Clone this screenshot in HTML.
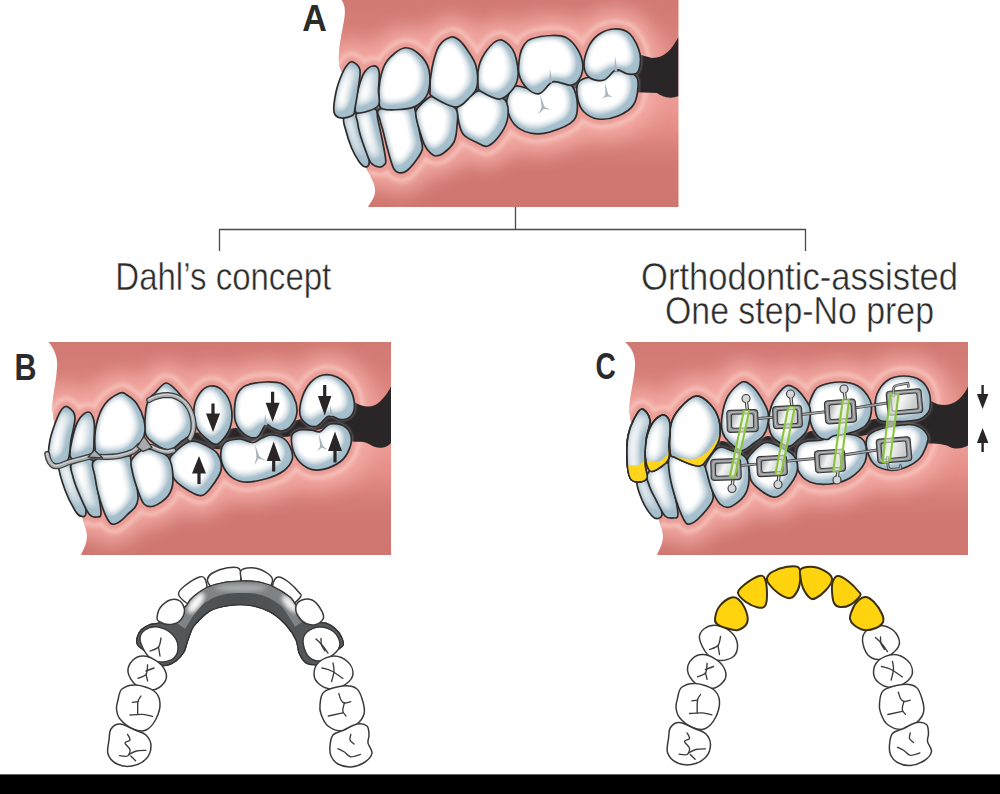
<!DOCTYPE html>
<html><head><meta charset="utf-8"><title>Figure</title>
<style>html,body{margin:0;padding:0;background:#fff}svg{display:block}</style></head>
<body>
<svg width="1000" height="794" viewBox="0 0 1000 794">
<defs>
<linearGradient id="gumA" x1="0" y1="0" x2="0" y2="1">
 <stop offset="0" stop-color="#d17973"/><stop offset="0.12" stop-color="#d57d77"/>
 <stop offset="0.25" stop-color="#df8982"/><stop offset="0.38" stop-color="#e8958e"/>
 <stop offset="0.50" stop-color="#eb9a93"/><stop offset="0.62" stop-color="#e48e87"/>
 <stop offset="0.74" stop-color="#d57d77"/><stop offset="0.82" stop-color="#d07771"/><stop offset="1" stop-color="#cf7670"/>
</linearGradient>
<linearGradient id="gumB" x1="0" y1="0" x2="0" y2="1">
 <stop offset="0" stop-color="#d17973"/><stop offset="0.12" stop-color="#d57d77"/>
 <stop offset="0.25" stop-color="#df8982"/><stop offset="0.38" stop-color="#e8958e"/>
 <stop offset="0.50" stop-color="#eb9a93"/><stop offset="0.62" stop-color="#e48e87"/>
 <stop offset="0.74" stop-color="#d57d77"/><stop offset="0.82" stop-color="#d07771"/><stop offset="1" stop-color="#cf7670"/>
</linearGradient>
<filter id="ts" x="-15%" y="-15%" width="130%" height="130%">
 <feComponentTransfer in="SourceAlpha" result="inv"><feFuncA type="table" tableValues="1 0"/></feComponentTransfer>
 <feGaussianBlur in="inv" stdDeviation="3.1" result="r0"/>
 <feComponentTransfer in="r0" result="r1"><feFuncA type="linear" slope="1.5" intercept="0"/></feComponentTransfer>
 <feFlood flood-color="#9db8c6" result="c1"/>
 <feComposite in="c1" in2="r1" operator="in" result="r2"/>
 <feComposite in="r2" in2="SourceAlpha" operator="in" result="rim"/>
 <feGaussianBlur in="inv" stdDeviation="6.5" result="d0"/>
 <feOffset in="d0" dx="-4.5" dy="-3.5" result="d1"/>
 <feComponentTransfer in="d1" result="d2"><feFuncA type="linear" slope="2.9" intercept="-0.2"/></feComponentTransfer>
 <feFlood flood-color="#a8c1ce" result="c2"/>
 <feComposite in="c2" in2="d2" operator="in" result="d3"/>
 <feComposite in="d3" in2="SourceAlpha" operator="in" result="dir"/>
 <feMerge><feMergeNode in="SourceGraphic"/><feMergeNode in="dir"/><feMergeNode in="rim"/></feMerge>
</filter>
<filter id="b1"><feGaussianBlur stdDeviation="1"/></filter>
<filter id="b15"><feGaussianBlur stdDeviation="1.6"/></filter>
<filter id="b2"><feGaussianBlur stdDeviation="2.2"/></filter>
<filter id="b7" x="-10%" y="-40%" width="120%" height="180%"><feGaussianBlur stdDeviation="9"/></filter>

<clipPath id="cgA"><path d="M341.5,0 C346,6 345.5,14 343,26 C340,42 337.5,56 339.5,66 L352,100 L366,168 C372,178 376,186 375,193 C374,199 370,203 368,207 L678.5,207 L678.5,0 Z"/></clipPath>
<mask id="mkA" maskUnits="userSpaceOnUse" x="0" y="0" width="1000" height="794"><path d="M356,114 L380,109.5 L416,108.5 L432,97.5 L457,107.5 L478,91.5 L505,100.5 L516,88.5 L540,92.5 L550,81.5 L575,86 L590,79 L614,72 L636,76" fill="none" stroke="#fff" stroke-width="4.5" stroke-linejoin="round" stroke-linecap="round"/><path d="M630,52 L652,58 C665,58 672,49 678.5,37 L678.5,96 C670,99.5 662,97 657,93 L630,92 Z" fill="#fff"/></mask>
<clipPath id="cgB"><path d="M48.5,342 C55,350 58,358 57,368 C56,384 52,398 52.5,410 L60,465 L82,516 C84,524 87,530 87,536 C87,544 83,550 81,555 L391,555 L391,342 Z"/></clipPath>
<mask id="mkB" maskUnits="userSpaceOnUse" x="0" y="0" width="1000" height="794"><path d="M172,451 L178,448 L196,440 L222,442 L233,436 L262,432 L297,428 L322,421 L352,420" fill="none" stroke="#fff" stroke-width="15" stroke-linejoin="round" stroke-linecap="round"/><path d="M346,398 L355,402.5 C360,405.5 365,406.8 369,406.5 C375,406 379,403 382,399.5 C386,395 389,390.5 391,386.4 L391,443 C389,445.5 386,447 383,447.5 C378,448.3 373,447 369,444 C364,441.5 360,441.8 355,441.8 L346,441 Z" fill="#fff"/></mask>
<clipPath id="cyU1"><path d="M642,409C644.7,409.2 649.3,414.8 650,420C650.7,425.2 646.8,432.7 646,440C645.2,447.3 644.8,457.7 645,464C645.2,470.3 648.2,475 647,478C645.8,481 640.8,482 638,482C635.2,482 631.8,481.7 630,478C628.2,474.3 627.3,467 627,460C626.7,453 626.8,442.8 628,436C629.2,429.2 631.7,423.5 634,419C636.3,414.5 639.3,408.8 642,409Z"/></clipPath>
<clipPath id="cyU2"><path d="M664,415C666.7,415.5 669.2,419.2 670,424C670.8,428.8 669.3,438 669,444C668.7,450 670.5,455.5 668,460C665.5,464.5 657.3,469.7 654,471C650.7,472.3 649.5,471.2 648,468C646.5,464.8 645.2,457.3 645,452C644.8,446.7 645.5,441.2 647,436C648.5,430.8 651.2,424.5 654,421C656.8,417.5 661.3,414.5 664,415Z"/></clipPath>
<clipPath id="cyU3"><path d="M696,396C691,396.7 684.2,403.3 680,408C675.8,412.7 672.7,416.7 671,424C669.3,431.3 669.2,446.3 670,452C670.8,457.7 671.3,455.7 676,458C680.7,460.3 692.7,466 698,466C703.3,466 704.5,462.3 708,458C711.5,453.7 717.2,446.3 719,440C720.8,433.7 720.5,426 719,420C717.5,414 713.8,408 710,404C706.2,400 701,395.3 696,396Z"/></clipPath>
<linearGradient id="brk" x1="0" y1="0" x2="1" y2="0.3"><stop offset="0" stop-color="#9ea1a3"/><stop offset="0.45" stop-color="#f4f4f4"/><stop offset="1" stop-color="#c9cbcc"/></linearGradient>
<clipPath id="cgC"><path d="M625,342 C632,348 635.5,356 635,366 C634,382 629,398 629.5,412 L638,470 L658,517 C660,524 663,530 663,536 C663,544 659,550 657,555 L968,555 L968,342 Z"/></clipPath>
<mask id="mkC" maskUnits="userSpaceOnUse" x="0" y="0" width="1000" height="794"><path d="M722,448 L746,454 L768,443 L792,449 L812,438 L840,434 L870,427 L900,421 L928,420" fill="none" stroke="#fff" stroke-width="14" stroke-linejoin="round" stroke-linecap="round"/><path d="M920,396 L932,401.5 C940,406.5 950,406.5 958,400 C963,395.5 966,391 968,386.4 L968,445.6 C962,449 955,449.5 950,447 C946,445 940,443.5 930,443.5 L920,443 Z" fill="#fff"/></mask>
<clipPath id="cpl"><path d="M138,645.5C136.2,643.1 136.5,640.2 137,638C137.5,635.8 139.7,631.4 141.5,629.5C143.3,627.6 147.4,625.5 150,624.5C152.6,623.5 156.5,624.2 160,622.5C163.5,620.8 171.4,614.3 175,612C178.6,609.7 183.9,607.7 186,606C188.1,604.3 188.3,601.8 190,600C191.7,598.2 195.5,594.8 198,593C200.5,591.2 204.1,588.5 208,587C211.9,585.5 221.4,582.8 226,582C230.6,581.2 236.8,581.1 241,581C245.2,580.9 251.7,580.8 256,581.5C260.3,582.2 267.2,583.8 272,586C276.8,588.2 286.6,594.3 290,597C293.4,599.7 293.8,602.9 296,605C298.2,607.1 302.9,609.6 306,612C309.1,614.4 315.2,620.5 318,622C320.8,623.5 323.7,622.2 326,623C328.3,623.8 332.4,626.2 334.5,628C336.6,629.8 339.8,633.5 341,636C342.2,638.5 344.5,642.8 343,645.5C341.5,648.2 333.1,652.5 330,655C326.9,657.5 323,662.1 321,663.5C319,664.9 318.1,665.1 316,665C313.9,664.9 308.4,664.7 306,663C303.6,661.3 300.4,656.2 299,653C297.6,649.8 297.8,643.9 296,640C294.2,636.1 289.6,628.9 286,625C282.4,621.1 275,614.7 270,612C265,609.3 255.6,606.4 250,605.5C244.4,604.6 235.6,604.7 230,605.5C224.4,606.3 215,608.1 210,611C205,613.9 197.1,621.9 194,626C190.9,630.1 189.4,636.4 188,640C186.6,643.6 185.7,649.1 184,652C182.3,654.9 178.5,659.1 176,661C173.5,662.9 168.4,665.1 166,665.5C163.6,665.9 161.2,665.5 159,664C156.8,662.5 152.9,657.6 150,655C147.1,652.4 139.8,647.9 138,645.5Z"/></clipPath>
<linearGradient id="plg" x1="0" y1="0" x2="1" y2="0"><stop offset="0" stop-color="#5a5d60"/><stop offset="0.5" stop-color="#4c4f52"/><stop offset="1" stop-color="#5a5d60"/></linearGradient></defs>
<g id="jawA">
<path d="M341.5,0 C346,6 345.5,14 343,26 C340,42 337.5,56 339.5,66 L352,100 L366,168 C372,178 376,186 375,193 C374,199 370,203 368,207 L678.5,207 L678.5,0 Z" fill="url(#gumA)"/>
<g clip-path="url(#cgA)">
<path d="M344,117C342,119.8 344.7,125.8 346,131C347.3,136.2 349.5,143 351.6,148C353.7,153 356.6,158.1 358.8,161.2C361,164.3 363.1,166.3 364.8,166.8C366.5,167.3 368.5,166.5 369,164C369.5,161.5 369,156.7 368,152C367,147.3 364.7,142.3 363,136C361.3,129.7 361.2,117.2 358,114C354.8,110.8 346,114.2 344,117Z M357,113C359.9,110.8 371.5,107.8 375,109C378.5,110.2 376.2,111.8 378,120C379.8,128.2 384.5,150.5 385.5,158C386.5,165.5 385.1,163.5 384,165C382.9,166.5 381.2,167.3 379,167C376.8,166.7 373.2,165.6 371,163C368.8,160.4 367.8,156.4 366,151.6C364.2,146.8 361.4,138.9 360,134C358.6,129.1 358,125.5 357.5,122C357,118.5 354.1,115.2 357,113Z M380,109C385.3,106.8 406.2,106.8 412,107C417.8,107.2 413.6,105 415,110C416.4,115 419.3,130.5 420.5,137C421.7,143.5 423.1,145.2 422.4,149C421.7,152.8 419,156.4 416.4,160C413.8,163.6 409.6,168.7 406.8,170.8C404,172.9 401.8,173.2 399.6,172.8C397.4,172.4 395.6,172.3 393.6,168.4C391.6,164.5 389.4,155.6 387.6,149.2C385.8,142.8 384.1,134.9 382.8,130C381.5,125.1 380.5,123.5 380,120C379.5,116.5 374.7,111.2 380,109Z M578,83C580,79.2 586,77.7 590,77C594,76.3 598,80 602,79C606,78 609.3,72.2 614,71C618.7,69.8 626,70.3 630,72C634,73.7 637.3,75.7 638,81C638.7,86.3 637.3,98.2 634,104C630.7,109.8 624,113.5 618,116C612,118.5 603.7,119.7 598,119C592.3,118.3 587.3,115.2 584,112C580.7,108.8 579,104.8 578,100C577,95.2 576,86.8 578,83Z M516,86C521.2,85.2 533.3,91.8 539,91C544.7,90.2 544.8,82.2 550,81C555.2,79.8 565.5,80.8 570,84C574.5,87.2 576.3,94 577,100C577.7,106 578.5,114.7 574,120C569.5,125.3 557.3,129.8 550,132C542.7,134.2 536,134.3 530,133C524,131.7 517.8,128.2 514,124C510.2,119.8 508,112.7 507,108C506,103.3 506.5,99.7 508,96C509.5,92.3 510.8,86.8 516,86Z M458,106C461.3,101.5 473,93.2 478,91C483,88.8 483.5,91.5 488,93C492.5,94.5 501.7,96.2 505,100C508.3,103.8 508.5,110.7 508,116C507.5,121.3 505.3,127 502,132C498.7,137 492.3,144.3 488,146C483.7,147.7 480.2,144 476,142C471.8,140 466,138 463,134C460,130 458.8,122.7 458,118C457.2,113.3 454.7,110.5 458,106Z M417,109C419.3,105.8 426.5,98.7 430,97C433.5,95.3 433.7,97 438,99C442.3,101 452.8,104.5 456,109C459.2,113.5 457.3,120.5 457,126C456.7,131.5 456.3,137.4 454,142C451.7,146.6 446.1,151.2 443,153.5C439.9,155.8 437.6,156 435.6,156C433.6,156 432.6,155.1 430.8,153.4C429,151.7 426.7,149.5 424.8,145.6C422.9,141.7 420.9,134.9 419.4,130C417.9,125.1 416.4,119.5 416,116C415.6,112.5 414.7,112.2 417,109Z M614,29C619.3,28.8 625.7,29.8 630,34C634.3,38.2 638.7,47.7 640,54C641.3,60.3 640,68.7 638,72C636,75.3 631.2,74.3 628,74C624.8,73.7 621.3,70.5 619,70C616.7,69.5 616.5,69.3 614,71C611.5,72.7 608,78.8 604,80C600,81.2 593.3,80.3 590,78C586.7,75.7 584.3,71 584,66C583.7,61 585.7,53.2 588,48C590.3,42.8 593.7,38.2 598,35C602.3,31.8 608.7,29.2 614,29Z M531,39C535.7,37.4 546.2,35.7 552,35.5C557.8,35.3 561.8,35.4 566,37.6C570.2,39.8 574.4,44.4 577.2,48.8C580,53.2 582.3,59.3 582.8,64.2C583.3,69.1 581.9,74.7 580,78.2C578.1,81.7 575.1,84.5 571.6,85.2C568.1,85.9 562.4,82.9 559,82.4C555.6,81.9 554.6,80.5 551.3,82.4C548,84.3 543.5,92.7 539.4,93.6C535.3,94.5 530.2,91.3 526.8,88C523.4,84.7 520.2,79.4 519,74C517.8,68.6 519,60.6 519.8,55.8C520.6,51 522.1,47.8 524,45C525.9,42.2 526.3,40.6 531,39Z M499,40C495.2,40.7 490.3,45.7 487,50C483.7,54.3 480.5,60 479,66C477.5,72 477.5,81.7 478,86C478.5,90.3 478.3,89.8 482,92C485.7,94.2 494.8,99.5 500,99C505.2,98.5 510,92.8 513,89C516,85.2 517.5,81.2 518,76C518.5,70.8 517.3,63 516,58C514.7,53 512.8,49 510,46C507.2,43 502.8,39.3 499,40Z M451,37C447.7,38 442.2,40.8 439,46C435.8,51.2 433.5,60.7 432,68C430.5,75.3 429.8,85.2 430,90C430.2,94.8 428.7,94.2 433,97C437.3,99.8 449.8,107 456,107C462.2,107 466.5,100.3 470,97C473.5,93.7 476,92.2 477,87C478,81.8 477.5,72 476,66C474.5,60 470.8,55.3 468,51C465.2,46.7 461.8,42.3 459,40C456.2,37.7 454.3,36 451,37Z M404,48C398.7,49.2 391,55.7 387,61C383,66.3 381.3,73.2 380,80C378.7,86.8 378.5,97.2 379,102C379.5,106.8 379.5,107.8 383,109C386.5,110.2 394.5,110 400,109.5C405.5,109 411.3,108.8 416,106C420.7,103.2 425.8,99 428,93C430.2,87 430.5,76.5 429,70C427.5,63.5 423.2,57.7 419,54C414.8,50.3 409.3,46.8 404,48Z M373,66C375.5,65.7 378.1,67 379,71C379.9,75 378.7,84.2 378.5,90C378.3,95.8 381.1,102.2 378,106C374.9,109.8 363.8,112.5 360,113C356.2,113.5 355.3,112.8 355,109C354.7,105.2 356.5,96 358,90C359.5,84 361.5,77 364,73C366.5,69 370.5,66.3 373,66Z M353,62C355,63 359.2,65.3 360,70C360.8,74.7 358.8,83.7 358,90C357.2,96.3 355.8,103.8 355,108C354.2,112.2 355.3,113.3 353,115C350.7,116.7 344.2,118.5 341,118C337.8,117.5 334.8,116.3 334,112C333.2,107.7 334.7,98.3 336,92C337.3,85.7 340,78.7 342,74C344,69.3 346.2,66 348,64C349.8,62 351,61 353,62Z" fill="#f4aca5" stroke="#f4aca5" stroke-width="42" stroke-linejoin="round" filter="url(#b7)" opacity="0.85"/>
<path d="M344,117C342,119.8 344.7,125.8 346,131C347.3,136.2 349.5,143 351.6,148C353.7,153 356.6,158.1 358.8,161.2C361,164.3 363.1,166.3 364.8,166.8C366.5,167.3 368.5,166.5 369,164C369.5,161.5 369,156.7 368,152C367,147.3 364.7,142.3 363,136C361.3,129.7 361.2,117.2 358,114C354.8,110.8 346,114.2 344,117Z M357,113C359.9,110.8 371.5,107.8 375,109C378.5,110.2 376.2,111.8 378,120C379.8,128.2 384.5,150.5 385.5,158C386.5,165.5 385.1,163.5 384,165C382.9,166.5 381.2,167.3 379,167C376.8,166.7 373.2,165.6 371,163C368.8,160.4 367.8,156.4 366,151.6C364.2,146.8 361.4,138.9 360,134C358.6,129.1 358,125.5 357.5,122C357,118.5 354.1,115.2 357,113Z M380,109C385.3,106.8 406.2,106.8 412,107C417.8,107.2 413.6,105 415,110C416.4,115 419.3,130.5 420.5,137C421.7,143.5 423.1,145.2 422.4,149C421.7,152.8 419,156.4 416.4,160C413.8,163.6 409.6,168.7 406.8,170.8C404,172.9 401.8,173.2 399.6,172.8C397.4,172.4 395.6,172.3 393.6,168.4C391.6,164.5 389.4,155.6 387.6,149.2C385.8,142.8 384.1,134.9 382.8,130C381.5,125.1 380.5,123.5 380,120C379.5,116.5 374.7,111.2 380,109Z M578,83C580,79.2 586,77.7 590,77C594,76.3 598,80 602,79C606,78 609.3,72.2 614,71C618.7,69.8 626,70.3 630,72C634,73.7 637.3,75.7 638,81C638.7,86.3 637.3,98.2 634,104C630.7,109.8 624,113.5 618,116C612,118.5 603.7,119.7 598,119C592.3,118.3 587.3,115.2 584,112C580.7,108.8 579,104.8 578,100C577,95.2 576,86.8 578,83Z M516,86C521.2,85.2 533.3,91.8 539,91C544.7,90.2 544.8,82.2 550,81C555.2,79.8 565.5,80.8 570,84C574.5,87.2 576.3,94 577,100C577.7,106 578.5,114.7 574,120C569.5,125.3 557.3,129.8 550,132C542.7,134.2 536,134.3 530,133C524,131.7 517.8,128.2 514,124C510.2,119.8 508,112.7 507,108C506,103.3 506.5,99.7 508,96C509.5,92.3 510.8,86.8 516,86Z M458,106C461.3,101.5 473,93.2 478,91C483,88.8 483.5,91.5 488,93C492.5,94.5 501.7,96.2 505,100C508.3,103.8 508.5,110.7 508,116C507.5,121.3 505.3,127 502,132C498.7,137 492.3,144.3 488,146C483.7,147.7 480.2,144 476,142C471.8,140 466,138 463,134C460,130 458.8,122.7 458,118C457.2,113.3 454.7,110.5 458,106Z M417,109C419.3,105.8 426.5,98.7 430,97C433.5,95.3 433.7,97 438,99C442.3,101 452.8,104.5 456,109C459.2,113.5 457.3,120.5 457,126C456.7,131.5 456.3,137.4 454,142C451.7,146.6 446.1,151.2 443,153.5C439.9,155.8 437.6,156 435.6,156C433.6,156 432.6,155.1 430.8,153.4C429,151.7 426.7,149.5 424.8,145.6C422.9,141.7 420.9,134.9 419.4,130C417.9,125.1 416.4,119.5 416,116C415.6,112.5 414.7,112.2 417,109Z M614,29C619.3,28.8 625.7,29.8 630,34C634.3,38.2 638.7,47.7 640,54C641.3,60.3 640,68.7 638,72C636,75.3 631.2,74.3 628,74C624.8,73.7 621.3,70.5 619,70C616.7,69.5 616.5,69.3 614,71C611.5,72.7 608,78.8 604,80C600,81.2 593.3,80.3 590,78C586.7,75.7 584.3,71 584,66C583.7,61 585.7,53.2 588,48C590.3,42.8 593.7,38.2 598,35C602.3,31.8 608.7,29.2 614,29Z M531,39C535.7,37.4 546.2,35.7 552,35.5C557.8,35.3 561.8,35.4 566,37.6C570.2,39.8 574.4,44.4 577.2,48.8C580,53.2 582.3,59.3 582.8,64.2C583.3,69.1 581.9,74.7 580,78.2C578.1,81.7 575.1,84.5 571.6,85.2C568.1,85.9 562.4,82.9 559,82.4C555.6,81.9 554.6,80.5 551.3,82.4C548,84.3 543.5,92.7 539.4,93.6C535.3,94.5 530.2,91.3 526.8,88C523.4,84.7 520.2,79.4 519,74C517.8,68.6 519,60.6 519.8,55.8C520.6,51 522.1,47.8 524,45C525.9,42.2 526.3,40.6 531,39Z M499,40C495.2,40.7 490.3,45.7 487,50C483.7,54.3 480.5,60 479,66C477.5,72 477.5,81.7 478,86C478.5,90.3 478.3,89.8 482,92C485.7,94.2 494.8,99.5 500,99C505.2,98.5 510,92.8 513,89C516,85.2 517.5,81.2 518,76C518.5,70.8 517.3,63 516,58C514.7,53 512.8,49 510,46C507.2,43 502.8,39.3 499,40Z M451,37C447.7,38 442.2,40.8 439,46C435.8,51.2 433.5,60.7 432,68C430.5,75.3 429.8,85.2 430,90C430.2,94.8 428.7,94.2 433,97C437.3,99.8 449.8,107 456,107C462.2,107 466.5,100.3 470,97C473.5,93.7 476,92.2 477,87C478,81.8 477.5,72 476,66C474.5,60 470.8,55.3 468,51C465.2,46.7 461.8,42.3 459,40C456.2,37.7 454.3,36 451,37Z M404,48C398.7,49.2 391,55.7 387,61C383,66.3 381.3,73.2 380,80C378.7,86.8 378.5,97.2 379,102C379.5,106.8 379.5,107.8 383,109C386.5,110.2 394.5,110 400,109.5C405.5,109 411.3,108.8 416,106C420.7,103.2 425.8,99 428,93C430.2,87 430.5,76.5 429,70C427.5,63.5 423.2,57.7 419,54C414.8,50.3 409.3,46.8 404,48Z M373,66C375.5,65.7 378.1,67 379,71C379.9,75 378.7,84.2 378.5,90C378.3,95.8 381.1,102.2 378,106C374.9,109.8 363.8,112.5 360,113C356.2,113.5 355.3,112.8 355,109C354.7,105.2 356.5,96 358,90C359.5,84 361.5,77 364,73C366.5,69 370.5,66.3 373,66Z M353,62C355,63 359.2,65.3 360,70C360.8,74.7 358.8,83.7 358,90C357.2,96.3 355.8,103.8 355,108C354.2,112.2 355.3,113.3 353,115C350.7,116.7 344.2,118.5 341,118C337.8,117.5 334.8,116.3 334,112C333.2,107.7 334.7,98.3 336,92C337.3,85.7 340,78.7 342,74C344,69.3 346.2,66 348,64C349.8,62 351,61 353,62Z" fill="none" stroke="#f9d3ce" stroke-width="19" stroke-linejoin="round" filter="url(#b2)" opacity="0.62"/>
<path d="M344,117C342,119.8 344.7,125.8 346,131C347.3,136.2 349.5,143 351.6,148C353.7,153 356.6,158.1 358.8,161.2C361,164.3 363.1,166.3 364.8,166.8C366.5,167.3 368.5,166.5 369,164C369.5,161.5 369,156.7 368,152C367,147.3 364.7,142.3 363,136C361.3,129.7 361.2,117.2 358,114C354.8,110.8 346,114.2 344,117Z M357,113C359.9,110.8 371.5,107.8 375,109C378.5,110.2 376.2,111.8 378,120C379.8,128.2 384.5,150.5 385.5,158C386.5,165.5 385.1,163.5 384,165C382.9,166.5 381.2,167.3 379,167C376.8,166.7 373.2,165.6 371,163C368.8,160.4 367.8,156.4 366,151.6C364.2,146.8 361.4,138.9 360,134C358.6,129.1 358,125.5 357.5,122C357,118.5 354.1,115.2 357,113Z M380,109C385.3,106.8 406.2,106.8 412,107C417.8,107.2 413.6,105 415,110C416.4,115 419.3,130.5 420.5,137C421.7,143.5 423.1,145.2 422.4,149C421.7,152.8 419,156.4 416.4,160C413.8,163.6 409.6,168.7 406.8,170.8C404,172.9 401.8,173.2 399.6,172.8C397.4,172.4 395.6,172.3 393.6,168.4C391.6,164.5 389.4,155.6 387.6,149.2C385.8,142.8 384.1,134.9 382.8,130C381.5,125.1 380.5,123.5 380,120C379.5,116.5 374.7,111.2 380,109Z M578,83C580,79.2 586,77.7 590,77C594,76.3 598,80 602,79C606,78 609.3,72.2 614,71C618.7,69.8 626,70.3 630,72C634,73.7 637.3,75.7 638,81C638.7,86.3 637.3,98.2 634,104C630.7,109.8 624,113.5 618,116C612,118.5 603.7,119.7 598,119C592.3,118.3 587.3,115.2 584,112C580.7,108.8 579,104.8 578,100C577,95.2 576,86.8 578,83Z M516,86C521.2,85.2 533.3,91.8 539,91C544.7,90.2 544.8,82.2 550,81C555.2,79.8 565.5,80.8 570,84C574.5,87.2 576.3,94 577,100C577.7,106 578.5,114.7 574,120C569.5,125.3 557.3,129.8 550,132C542.7,134.2 536,134.3 530,133C524,131.7 517.8,128.2 514,124C510.2,119.8 508,112.7 507,108C506,103.3 506.5,99.7 508,96C509.5,92.3 510.8,86.8 516,86Z M458,106C461.3,101.5 473,93.2 478,91C483,88.8 483.5,91.5 488,93C492.5,94.5 501.7,96.2 505,100C508.3,103.8 508.5,110.7 508,116C507.5,121.3 505.3,127 502,132C498.7,137 492.3,144.3 488,146C483.7,147.7 480.2,144 476,142C471.8,140 466,138 463,134C460,130 458.8,122.7 458,118C457.2,113.3 454.7,110.5 458,106Z M417,109C419.3,105.8 426.5,98.7 430,97C433.5,95.3 433.7,97 438,99C442.3,101 452.8,104.5 456,109C459.2,113.5 457.3,120.5 457,126C456.7,131.5 456.3,137.4 454,142C451.7,146.6 446.1,151.2 443,153.5C439.9,155.8 437.6,156 435.6,156C433.6,156 432.6,155.1 430.8,153.4C429,151.7 426.7,149.5 424.8,145.6C422.9,141.7 420.9,134.9 419.4,130C417.9,125.1 416.4,119.5 416,116C415.6,112.5 414.7,112.2 417,109Z M614,29C619.3,28.8 625.7,29.8 630,34C634.3,38.2 638.7,47.7 640,54C641.3,60.3 640,68.7 638,72C636,75.3 631.2,74.3 628,74C624.8,73.7 621.3,70.5 619,70C616.7,69.5 616.5,69.3 614,71C611.5,72.7 608,78.8 604,80C600,81.2 593.3,80.3 590,78C586.7,75.7 584.3,71 584,66C583.7,61 585.7,53.2 588,48C590.3,42.8 593.7,38.2 598,35C602.3,31.8 608.7,29.2 614,29Z M531,39C535.7,37.4 546.2,35.7 552,35.5C557.8,35.3 561.8,35.4 566,37.6C570.2,39.8 574.4,44.4 577.2,48.8C580,53.2 582.3,59.3 582.8,64.2C583.3,69.1 581.9,74.7 580,78.2C578.1,81.7 575.1,84.5 571.6,85.2C568.1,85.9 562.4,82.9 559,82.4C555.6,81.9 554.6,80.5 551.3,82.4C548,84.3 543.5,92.7 539.4,93.6C535.3,94.5 530.2,91.3 526.8,88C523.4,84.7 520.2,79.4 519,74C517.8,68.6 519,60.6 519.8,55.8C520.6,51 522.1,47.8 524,45C525.9,42.2 526.3,40.6 531,39Z M499,40C495.2,40.7 490.3,45.7 487,50C483.7,54.3 480.5,60 479,66C477.5,72 477.5,81.7 478,86C478.5,90.3 478.3,89.8 482,92C485.7,94.2 494.8,99.5 500,99C505.2,98.5 510,92.8 513,89C516,85.2 517.5,81.2 518,76C518.5,70.8 517.3,63 516,58C514.7,53 512.8,49 510,46C507.2,43 502.8,39.3 499,40Z M451,37C447.7,38 442.2,40.8 439,46C435.8,51.2 433.5,60.7 432,68C430.5,75.3 429.8,85.2 430,90C430.2,94.8 428.7,94.2 433,97C437.3,99.8 449.8,107 456,107C462.2,107 466.5,100.3 470,97C473.5,93.7 476,92.2 477,87C478,81.8 477.5,72 476,66C474.5,60 470.8,55.3 468,51C465.2,46.7 461.8,42.3 459,40C456.2,37.7 454.3,36 451,37Z M404,48C398.7,49.2 391,55.7 387,61C383,66.3 381.3,73.2 380,80C378.7,86.8 378.5,97.2 379,102C379.5,106.8 379.5,107.8 383,109C386.5,110.2 394.5,110 400,109.5C405.5,109 411.3,108.8 416,106C420.7,103.2 425.8,99 428,93C430.2,87 430.5,76.5 429,70C427.5,63.5 423.2,57.7 419,54C414.8,50.3 409.3,46.8 404,48Z M373,66C375.5,65.7 378.1,67 379,71C379.9,75 378.7,84.2 378.5,90C378.3,95.8 381.1,102.2 378,106C374.9,109.8 363.8,112.5 360,113C356.2,113.5 355.3,112.8 355,109C354.7,105.2 356.5,96 358,90C359.5,84 361.5,77 364,73C366.5,69 370.5,66.3 373,66Z M353,62C355,63 359.2,65.3 360,70C360.8,74.7 358.8,83.7 358,90C357.2,96.3 355.8,103.8 355,108C354.2,112.2 355.3,113.3 353,115C350.7,116.7 344.2,118.5 341,118C337.8,117.5 334.8,116.3 334,112C333.2,107.7 334.7,98.3 336,92C337.3,85.7 340,78.7 342,74C344,69.3 346.2,66 348,64C349.8,62 351,61 353,62Z" fill="#eb9d96" stroke="#eb9d96" stroke-width="11" stroke-linejoin="round" filter="url(#b15)"/>
<path d="M630,52 L652,58 C665,58 672,49 678.5,37 L678.5,96 C670,99.5 662,97 657,93 L630,92 Z" fill="#2a2627"/>
<path d="M356,114 L380,109.5 L416,108.5 L432,97.5 L457,107.5 L478,91.5 L505,100.5 L516,88.5 L540,92.5 L550,81.5 L575,86 L590,79 L614,72 L636,76" fill="none" stroke="#2a2627" stroke-width="4.5" stroke-linejoin="round" stroke-linecap="round"/>
<path d="M344,117C342,119.8 344.7,125.8 346,131C347.3,136.2 349.5,143 351.6,148C353.7,153 356.6,158.1 358.8,161.2C361,164.3 363.1,166.3 364.8,166.8C366.5,167.3 368.5,166.5 369,164C369.5,161.5 369,156.7 368,152C367,147.3 364.7,142.3 363,136C361.3,129.7 361.2,117.2 358,114C354.8,110.8 346,114.2 344,117Z M357,113C359.9,110.8 371.5,107.8 375,109C378.5,110.2 376.2,111.8 378,120C379.8,128.2 384.5,150.5 385.5,158C386.5,165.5 385.1,163.5 384,165C382.9,166.5 381.2,167.3 379,167C376.8,166.7 373.2,165.6 371,163C368.8,160.4 367.8,156.4 366,151.6C364.2,146.8 361.4,138.9 360,134C358.6,129.1 358,125.5 357.5,122C357,118.5 354.1,115.2 357,113Z M380,109C385.3,106.8 406.2,106.8 412,107C417.8,107.2 413.6,105 415,110C416.4,115 419.3,130.5 420.5,137C421.7,143.5 423.1,145.2 422.4,149C421.7,152.8 419,156.4 416.4,160C413.8,163.6 409.6,168.7 406.8,170.8C404,172.9 401.8,173.2 399.6,172.8C397.4,172.4 395.6,172.3 393.6,168.4C391.6,164.5 389.4,155.6 387.6,149.2C385.8,142.8 384.1,134.9 382.8,130C381.5,125.1 380.5,123.5 380,120C379.5,116.5 374.7,111.2 380,109Z M578,83C580,79.2 586,77.7 590,77C594,76.3 598,80 602,79C606,78 609.3,72.2 614,71C618.7,69.8 626,70.3 630,72C634,73.7 637.3,75.7 638,81C638.7,86.3 637.3,98.2 634,104C630.7,109.8 624,113.5 618,116C612,118.5 603.7,119.7 598,119C592.3,118.3 587.3,115.2 584,112C580.7,108.8 579,104.8 578,100C577,95.2 576,86.8 578,83Z M516,86C521.2,85.2 533.3,91.8 539,91C544.7,90.2 544.8,82.2 550,81C555.2,79.8 565.5,80.8 570,84C574.5,87.2 576.3,94 577,100C577.7,106 578.5,114.7 574,120C569.5,125.3 557.3,129.8 550,132C542.7,134.2 536,134.3 530,133C524,131.7 517.8,128.2 514,124C510.2,119.8 508,112.7 507,108C506,103.3 506.5,99.7 508,96C509.5,92.3 510.8,86.8 516,86Z M458,106C461.3,101.5 473,93.2 478,91C483,88.8 483.5,91.5 488,93C492.5,94.5 501.7,96.2 505,100C508.3,103.8 508.5,110.7 508,116C507.5,121.3 505.3,127 502,132C498.7,137 492.3,144.3 488,146C483.7,147.7 480.2,144 476,142C471.8,140 466,138 463,134C460,130 458.8,122.7 458,118C457.2,113.3 454.7,110.5 458,106Z M417,109C419.3,105.8 426.5,98.7 430,97C433.5,95.3 433.7,97 438,99C442.3,101 452.8,104.5 456,109C459.2,113.5 457.3,120.5 457,126C456.7,131.5 456.3,137.4 454,142C451.7,146.6 446.1,151.2 443,153.5C439.9,155.8 437.6,156 435.6,156C433.6,156 432.6,155.1 430.8,153.4C429,151.7 426.7,149.5 424.8,145.6C422.9,141.7 420.9,134.9 419.4,130C417.9,125.1 416.4,119.5 416,116C415.6,112.5 414.7,112.2 417,109Z M614,29C619.3,28.8 625.7,29.8 630,34C634.3,38.2 638.7,47.7 640,54C641.3,60.3 640,68.7 638,72C636,75.3 631.2,74.3 628,74C624.8,73.7 621.3,70.5 619,70C616.7,69.5 616.5,69.3 614,71C611.5,72.7 608,78.8 604,80C600,81.2 593.3,80.3 590,78C586.7,75.7 584.3,71 584,66C583.7,61 585.7,53.2 588,48C590.3,42.8 593.7,38.2 598,35C602.3,31.8 608.7,29.2 614,29Z M531,39C535.7,37.4 546.2,35.7 552,35.5C557.8,35.3 561.8,35.4 566,37.6C570.2,39.8 574.4,44.4 577.2,48.8C580,53.2 582.3,59.3 582.8,64.2C583.3,69.1 581.9,74.7 580,78.2C578.1,81.7 575.1,84.5 571.6,85.2C568.1,85.9 562.4,82.9 559,82.4C555.6,81.9 554.6,80.5 551.3,82.4C548,84.3 543.5,92.7 539.4,93.6C535.3,94.5 530.2,91.3 526.8,88C523.4,84.7 520.2,79.4 519,74C517.8,68.6 519,60.6 519.8,55.8C520.6,51 522.1,47.8 524,45C525.9,42.2 526.3,40.6 531,39Z M499,40C495.2,40.7 490.3,45.7 487,50C483.7,54.3 480.5,60 479,66C477.5,72 477.5,81.7 478,86C478.5,90.3 478.3,89.8 482,92C485.7,94.2 494.8,99.5 500,99C505.2,98.5 510,92.8 513,89C516,85.2 517.5,81.2 518,76C518.5,70.8 517.3,63 516,58C514.7,53 512.8,49 510,46C507.2,43 502.8,39.3 499,40Z M451,37C447.7,38 442.2,40.8 439,46C435.8,51.2 433.5,60.7 432,68C430.5,75.3 429.8,85.2 430,90C430.2,94.8 428.7,94.2 433,97C437.3,99.8 449.8,107 456,107C462.2,107 466.5,100.3 470,97C473.5,93.7 476,92.2 477,87C478,81.8 477.5,72 476,66C474.5,60 470.8,55.3 468,51C465.2,46.7 461.8,42.3 459,40C456.2,37.7 454.3,36 451,37Z M404,48C398.7,49.2 391,55.7 387,61C383,66.3 381.3,73.2 380,80C378.7,86.8 378.5,97.2 379,102C379.5,106.8 379.5,107.8 383,109C386.5,110.2 394.5,110 400,109.5C405.5,109 411.3,108.8 416,106C420.7,103.2 425.8,99 428,93C430.2,87 430.5,76.5 429,70C427.5,63.5 423.2,57.7 419,54C414.8,50.3 409.3,46.8 404,48Z M373,66C375.5,65.7 378.1,67 379,71C379.9,75 378.7,84.2 378.5,90C378.3,95.8 381.1,102.2 378,106C374.9,109.8 363.8,112.5 360,113C356.2,113.5 355.3,112.8 355,109C354.7,105.2 356.5,96 358,90C359.5,84 361.5,77 364,73C366.5,69 370.5,66.3 373,66Z M353,62C355,63 359.2,65.3 360,70C360.8,74.7 358.8,83.7 358,90C357.2,96.3 355.8,103.8 355,108C354.2,112.2 355.3,113.3 353,115C350.7,116.7 344.2,118.5 341,118C337.8,117.5 334.8,116.3 334,112C333.2,107.7 334.7,98.3 336,92C337.3,85.7 340,78.7 342,74C344,69.3 346.2,66 348,64C349.8,62 351,61 353,62Z" fill="none" stroke="#fff" stroke-width="3.2" stroke-linejoin="round" filter="url(#b1)" opacity="0.3" mask="url(#mkA)"/>
</g>
<path d="M344,117C342,119.8 344.7,125.8 346,131C347.3,136.2 349.5,143 351.6,148C353.7,153 356.6,158.1 358.8,161.2C361,164.3 363.1,166.3 364.8,166.8C366.5,167.3 368.5,166.5 369,164C369.5,161.5 369,156.7 368,152C367,147.3 364.7,142.3 363,136C361.3,129.7 361.2,117.2 358,114C354.8,110.8 346,114.2 344,117Z" fill="#fff" filter="url(#ts)"/>
<path d="M344,117C342,119.8 344.7,125.8 346,131C347.3,136.2 349.5,143 351.6,148C353.7,153 356.6,158.1 358.8,161.2C361,164.3 363.1,166.3 364.8,166.8C366.5,167.3 368.5,166.5 369,164C369.5,161.5 369,156.7 368,152C367,147.3 364.7,142.3 363,136C361.3,129.7 361.2,117.2 358,114C354.8,110.8 346,114.2 344,117Z" fill="none" stroke="#2e2b2b" stroke-width="1.7" stroke-linejoin="round"/>
<path d="M357,113C359.9,110.8 371.5,107.8 375,109C378.5,110.2 376.2,111.8 378,120C379.8,128.2 384.5,150.5 385.5,158C386.5,165.5 385.1,163.5 384,165C382.9,166.5 381.2,167.3 379,167C376.8,166.7 373.2,165.6 371,163C368.8,160.4 367.8,156.4 366,151.6C364.2,146.8 361.4,138.9 360,134C358.6,129.1 358,125.5 357.5,122C357,118.5 354.1,115.2 357,113Z" fill="#fff" filter="url(#ts)"/>
<path d="M357,113C359.9,110.8 371.5,107.8 375,109C378.5,110.2 376.2,111.8 378,120C379.8,128.2 384.5,150.5 385.5,158C386.5,165.5 385.1,163.5 384,165C382.9,166.5 381.2,167.3 379,167C376.8,166.7 373.2,165.6 371,163C368.8,160.4 367.8,156.4 366,151.6C364.2,146.8 361.4,138.9 360,134C358.6,129.1 358,125.5 357.5,122C357,118.5 354.1,115.2 357,113Z" fill="none" stroke="#2e2b2b" stroke-width="1.7" stroke-linejoin="round"/>
<path d="M380,109C385.3,106.8 406.2,106.8 412,107C417.8,107.2 413.6,105 415,110C416.4,115 419.3,130.5 420.5,137C421.7,143.5 423.1,145.2 422.4,149C421.7,152.8 419,156.4 416.4,160C413.8,163.6 409.6,168.7 406.8,170.8C404,172.9 401.8,173.2 399.6,172.8C397.4,172.4 395.6,172.3 393.6,168.4C391.6,164.5 389.4,155.6 387.6,149.2C385.8,142.8 384.1,134.9 382.8,130C381.5,125.1 380.5,123.5 380,120C379.5,116.5 374.7,111.2 380,109Z" fill="#fff" filter="url(#ts)"/>
<path d="M380,109C385.3,106.8 406.2,106.8 412,107C417.8,107.2 413.6,105 415,110C416.4,115 419.3,130.5 420.5,137C421.7,143.5 423.1,145.2 422.4,149C421.7,152.8 419,156.4 416.4,160C413.8,163.6 409.6,168.7 406.8,170.8C404,172.9 401.8,173.2 399.6,172.8C397.4,172.4 395.6,172.3 393.6,168.4C391.6,164.5 389.4,155.6 387.6,149.2C385.8,142.8 384.1,134.9 382.8,130C381.5,125.1 380.5,123.5 380,120C379.5,116.5 374.7,111.2 380,109Z" fill="none" stroke="#2e2b2b" stroke-width="1.7" stroke-linejoin="round"/>
<path d="M578,83C580,79.2 586,77.7 590,77C594,76.3 598,80 602,79C606,78 609.3,72.2 614,71C618.7,69.8 626,70.3 630,72C634,73.7 637.3,75.7 638,81C638.7,86.3 637.3,98.2 634,104C630.7,109.8 624,113.5 618,116C612,118.5 603.7,119.7 598,119C592.3,118.3 587.3,115.2 584,112C580.7,108.8 579,104.8 578,100C577,95.2 576,86.8 578,83Z" fill="#fff" filter="url(#ts)"/>
<path d="M578,83C580,79.2 586,77.7 590,77C594,76.3 598,80 602,79C606,78 609.3,72.2 614,71C618.7,69.8 626,70.3 630,72C634,73.7 637.3,75.7 638,81C638.7,86.3 637.3,98.2 634,104C630.7,109.8 624,113.5 618,116C612,118.5 603.7,119.7 598,119C592.3,118.3 587.3,115.2 584,112C580.7,108.8 579,104.8 578,100C577,95.2 576,86.8 578,83Z" fill="none" stroke="#2e2b2b" stroke-width="1.7" stroke-linejoin="round"/>
<path d="M516,86C521.2,85.2 533.3,91.8 539,91C544.7,90.2 544.8,82.2 550,81C555.2,79.8 565.5,80.8 570,84C574.5,87.2 576.3,94 577,100C577.7,106 578.5,114.7 574,120C569.5,125.3 557.3,129.8 550,132C542.7,134.2 536,134.3 530,133C524,131.7 517.8,128.2 514,124C510.2,119.8 508,112.7 507,108C506,103.3 506.5,99.7 508,96C509.5,92.3 510.8,86.8 516,86Z" fill="#fff" filter="url(#ts)"/>
<path d="M516,86C521.2,85.2 533.3,91.8 539,91C544.7,90.2 544.8,82.2 550,81C555.2,79.8 565.5,80.8 570,84C574.5,87.2 576.3,94 577,100C577.7,106 578.5,114.7 574,120C569.5,125.3 557.3,129.8 550,132C542.7,134.2 536,134.3 530,133C524,131.7 517.8,128.2 514,124C510.2,119.8 508,112.7 507,108C506,103.3 506.5,99.7 508,96C509.5,92.3 510.8,86.8 516,86Z" fill="none" stroke="#2e2b2b" stroke-width="1.7" stroke-linejoin="round"/>
<path d="M458,106C461.3,101.5 473,93.2 478,91C483,88.8 483.5,91.5 488,93C492.5,94.5 501.7,96.2 505,100C508.3,103.8 508.5,110.7 508,116C507.5,121.3 505.3,127 502,132C498.7,137 492.3,144.3 488,146C483.7,147.7 480.2,144 476,142C471.8,140 466,138 463,134C460,130 458.8,122.7 458,118C457.2,113.3 454.7,110.5 458,106Z" fill="#fff" filter="url(#ts)"/>
<path d="M458,106C461.3,101.5 473,93.2 478,91C483,88.8 483.5,91.5 488,93C492.5,94.5 501.7,96.2 505,100C508.3,103.8 508.5,110.7 508,116C507.5,121.3 505.3,127 502,132C498.7,137 492.3,144.3 488,146C483.7,147.7 480.2,144 476,142C471.8,140 466,138 463,134C460,130 458.8,122.7 458,118C457.2,113.3 454.7,110.5 458,106Z" fill="none" stroke="#2e2b2b" stroke-width="1.7" stroke-linejoin="round"/>
<path d="M417,109C419.3,105.8 426.5,98.7 430,97C433.5,95.3 433.7,97 438,99C442.3,101 452.8,104.5 456,109C459.2,113.5 457.3,120.5 457,126C456.7,131.5 456.3,137.4 454,142C451.7,146.6 446.1,151.2 443,153.5C439.9,155.8 437.6,156 435.6,156C433.6,156 432.6,155.1 430.8,153.4C429,151.7 426.7,149.5 424.8,145.6C422.9,141.7 420.9,134.9 419.4,130C417.9,125.1 416.4,119.5 416,116C415.6,112.5 414.7,112.2 417,109Z" fill="#fff" filter="url(#ts)"/>
<path d="M417,109C419.3,105.8 426.5,98.7 430,97C433.5,95.3 433.7,97 438,99C442.3,101 452.8,104.5 456,109C459.2,113.5 457.3,120.5 457,126C456.7,131.5 456.3,137.4 454,142C451.7,146.6 446.1,151.2 443,153.5C439.9,155.8 437.6,156 435.6,156C433.6,156 432.6,155.1 430.8,153.4C429,151.7 426.7,149.5 424.8,145.6C422.9,141.7 420.9,134.9 419.4,130C417.9,125.1 416.4,119.5 416,116C415.6,112.5 414.7,112.2 417,109Z" fill="none" stroke="#2e2b2b" stroke-width="1.7" stroke-linejoin="round"/>
<path d="M614,29C619.3,28.8 625.7,29.8 630,34C634.3,38.2 638.7,47.7 640,54C641.3,60.3 640,68.7 638,72C636,75.3 631.2,74.3 628,74C624.8,73.7 621.3,70.5 619,70C616.7,69.5 616.5,69.3 614,71C611.5,72.7 608,78.8 604,80C600,81.2 593.3,80.3 590,78C586.7,75.7 584.3,71 584,66C583.7,61 585.7,53.2 588,48C590.3,42.8 593.7,38.2 598,35C602.3,31.8 608.7,29.2 614,29Z" fill="#fff" filter="url(#ts)"/>
<path d="M614,29C619.3,28.8 625.7,29.8 630,34C634.3,38.2 638.7,47.7 640,54C641.3,60.3 640,68.7 638,72C636,75.3 631.2,74.3 628,74C624.8,73.7 621.3,70.5 619,70C616.7,69.5 616.5,69.3 614,71C611.5,72.7 608,78.8 604,80C600,81.2 593.3,80.3 590,78C586.7,75.7 584.3,71 584,66C583.7,61 585.7,53.2 588,48C590.3,42.8 593.7,38.2 598,35C602.3,31.8 608.7,29.2 614,29Z" fill="none" stroke="#2e2b2b" stroke-width="1.7" stroke-linejoin="round"/>
<path d="M531,39C535.7,37.4 546.2,35.7 552,35.5C557.8,35.3 561.8,35.4 566,37.6C570.2,39.8 574.4,44.4 577.2,48.8C580,53.2 582.3,59.3 582.8,64.2C583.3,69.1 581.9,74.7 580,78.2C578.1,81.7 575.1,84.5 571.6,85.2C568.1,85.9 562.4,82.9 559,82.4C555.6,81.9 554.6,80.5 551.3,82.4C548,84.3 543.5,92.7 539.4,93.6C535.3,94.5 530.2,91.3 526.8,88C523.4,84.7 520.2,79.4 519,74C517.8,68.6 519,60.6 519.8,55.8C520.6,51 522.1,47.8 524,45C525.9,42.2 526.3,40.6 531,39Z" fill="#fff" filter="url(#ts)"/>
<path d="M531,39C535.7,37.4 546.2,35.7 552,35.5C557.8,35.3 561.8,35.4 566,37.6C570.2,39.8 574.4,44.4 577.2,48.8C580,53.2 582.3,59.3 582.8,64.2C583.3,69.1 581.9,74.7 580,78.2C578.1,81.7 575.1,84.5 571.6,85.2C568.1,85.9 562.4,82.9 559,82.4C555.6,81.9 554.6,80.5 551.3,82.4C548,84.3 543.5,92.7 539.4,93.6C535.3,94.5 530.2,91.3 526.8,88C523.4,84.7 520.2,79.4 519,74C517.8,68.6 519,60.6 519.8,55.8C520.6,51 522.1,47.8 524,45C525.9,42.2 526.3,40.6 531,39Z" fill="none" stroke="#2e2b2b" stroke-width="1.7" stroke-linejoin="round"/>
<path d="M499,40C495.2,40.7 490.3,45.7 487,50C483.7,54.3 480.5,60 479,66C477.5,72 477.5,81.7 478,86C478.5,90.3 478.3,89.8 482,92C485.7,94.2 494.8,99.5 500,99C505.2,98.5 510,92.8 513,89C516,85.2 517.5,81.2 518,76C518.5,70.8 517.3,63 516,58C514.7,53 512.8,49 510,46C507.2,43 502.8,39.3 499,40Z" fill="#fff" filter="url(#ts)"/>
<path d="M499,40C495.2,40.7 490.3,45.7 487,50C483.7,54.3 480.5,60 479,66C477.5,72 477.5,81.7 478,86C478.5,90.3 478.3,89.8 482,92C485.7,94.2 494.8,99.5 500,99C505.2,98.5 510,92.8 513,89C516,85.2 517.5,81.2 518,76C518.5,70.8 517.3,63 516,58C514.7,53 512.8,49 510,46C507.2,43 502.8,39.3 499,40Z" fill="none" stroke="#2e2b2b" stroke-width="1.7" stroke-linejoin="round"/>
<path d="M451,37C447.7,38 442.2,40.8 439,46C435.8,51.2 433.5,60.7 432,68C430.5,75.3 429.8,85.2 430,90C430.2,94.8 428.7,94.2 433,97C437.3,99.8 449.8,107 456,107C462.2,107 466.5,100.3 470,97C473.5,93.7 476,92.2 477,87C478,81.8 477.5,72 476,66C474.5,60 470.8,55.3 468,51C465.2,46.7 461.8,42.3 459,40C456.2,37.7 454.3,36 451,37Z" fill="#fff" filter="url(#ts)"/>
<path d="M451,37C447.7,38 442.2,40.8 439,46C435.8,51.2 433.5,60.7 432,68C430.5,75.3 429.8,85.2 430,90C430.2,94.8 428.7,94.2 433,97C437.3,99.8 449.8,107 456,107C462.2,107 466.5,100.3 470,97C473.5,93.7 476,92.2 477,87C478,81.8 477.5,72 476,66C474.5,60 470.8,55.3 468,51C465.2,46.7 461.8,42.3 459,40C456.2,37.7 454.3,36 451,37Z" fill="none" stroke="#2e2b2b" stroke-width="1.7" stroke-linejoin="round"/>
<path d="M404,48C398.7,49.2 391,55.7 387,61C383,66.3 381.3,73.2 380,80C378.7,86.8 378.5,97.2 379,102C379.5,106.8 379.5,107.8 383,109C386.5,110.2 394.5,110 400,109.5C405.5,109 411.3,108.8 416,106C420.7,103.2 425.8,99 428,93C430.2,87 430.5,76.5 429,70C427.5,63.5 423.2,57.7 419,54C414.8,50.3 409.3,46.8 404,48Z" fill="#fff" filter="url(#ts)"/>
<path d="M404,48C398.7,49.2 391,55.7 387,61C383,66.3 381.3,73.2 380,80C378.7,86.8 378.5,97.2 379,102C379.5,106.8 379.5,107.8 383,109C386.5,110.2 394.5,110 400,109.5C405.5,109 411.3,108.8 416,106C420.7,103.2 425.8,99 428,93C430.2,87 430.5,76.5 429,70C427.5,63.5 423.2,57.7 419,54C414.8,50.3 409.3,46.8 404,48Z" fill="none" stroke="#2e2b2b" stroke-width="1.7" stroke-linejoin="round"/>
<path d="M373,66C375.5,65.7 378.1,67 379,71C379.9,75 378.7,84.2 378.5,90C378.3,95.8 381.1,102.2 378,106C374.9,109.8 363.8,112.5 360,113C356.2,113.5 355.3,112.8 355,109C354.7,105.2 356.5,96 358,90C359.5,84 361.5,77 364,73C366.5,69 370.5,66.3 373,66Z" fill="#fff" filter="url(#ts)"/>
<path d="M373,66C375.5,65.7 378.1,67 379,71C379.9,75 378.7,84.2 378.5,90C378.3,95.8 381.1,102.2 378,106C374.9,109.8 363.8,112.5 360,113C356.2,113.5 355.3,112.8 355,109C354.7,105.2 356.5,96 358,90C359.5,84 361.5,77 364,73C366.5,69 370.5,66.3 373,66Z" fill="none" stroke="#2e2b2b" stroke-width="1.7" stroke-linejoin="round"/>
<path d="M353,62C355,63 359.2,65.3 360,70C360.8,74.7 358.8,83.7 358,90C357.2,96.3 355.8,103.8 355,108C354.2,112.2 355.3,113.3 353,115C350.7,116.7 344.2,118.5 341,118C337.8,117.5 334.8,116.3 334,112C333.2,107.7 334.7,98.3 336,92C337.3,85.7 340,78.7 342,74C344,69.3 346.2,66 348,64C349.8,62 351,61 353,62Z" fill="#fff" filter="url(#ts)"/>
<path d="M353,62C355,63 359.2,65.3 360,70C360.8,74.7 358.8,83.7 358,90C357.2,96.3 355.8,103.8 355,108C354.2,112.2 355.3,113.3 353,115C350.7,116.7 344.2,118.5 341,118C337.8,117.5 334.8,116.3 334,112C333.2,107.7 334.7,98.3 336,92C337.3,85.7 340,78.7 342,74C344,69.3 346.2,66 348,64C349.8,62 351,61 353,62Z" fill="none" stroke="#2e2b2b" stroke-width="1.7" stroke-linejoin="round"/>
<path d="M552.3,82.5 L550,68.5 L549.3,82.7 Z" fill="#a9b5bc"/><path d="M617.5,71.2 L615,56 L614.5,71.4 Z" fill="#a9b5bc"/><path d="M544.6,107.3 L540,94.3 L541.8,107.9 Z" fill="#a9b5bc"/><path d="M542.1,106.8 L538,114.8 L544.3,108.4 Z" fill="#a9b5bc"/><path d="M542.8,108.8 L550.8,109.8 L543.6,106.4 Z" fill="#a9b5bc"/><circle cx="543.2" cy="107.6" r="1.4" fill="#a9b5bc"/><path d="M608.2,94.8 L605.2,82.6 L605.4,95.2 Z" fill="#a9b5bc"/><path d="M606,94 L602.2,98.8 L607.6,96 Z" fill="#a9b5bc"/><path d="M606.3,96.2 L612.4,97.2 L607.3,93.8 Z" fill="#a9b5bc"/><circle cx="606.8" cy="95" r="1.4" fill="#a9b5bc"/>
</g>
<path d="M515.5,207 V229.5 M219.5,251 V229.5 H805.5 V251" fill="none" stroke="#4a4a4a" stroke-width="1.3"/>
<text x="115.3" y="290" font-size="39" textLength="216" lengthAdjust="spacingAndGlyphs" font-family="'Liberation Sans',sans-serif" fill="#2b2b2b" stroke="#fff" stroke-width="0.5">Dahl’s concept</text>
<text x="641" y="290" font-size="39" textLength="317" lengthAdjust="spacingAndGlyphs" font-family="'Liberation Sans',sans-serif" fill="#2b2b2b" stroke="#fff" stroke-width="0.5">Orthodontic-assisted</text>
<text x="665" y="324" font-size="39" textLength="269" lengthAdjust="spacingAndGlyphs" font-family="'Liberation Sans',sans-serif" fill="#2b2b2b" stroke="#fff" stroke-width="0.5">One step-No prep</text>
<text x="302.3" y="30.7" font-size="36.5" font-weight="bold" textLength="24.6" lengthAdjust="spacingAndGlyphs" font-family="'Liberation Sans',sans-serif" fill="#2b2b2b">A</text>
<text x="14.6" y="380.3" font-size="36.5" font-weight="bold" textLength="22" lengthAdjust="spacingAndGlyphs" font-family="'Liberation Sans',sans-serif" fill="#2b2b2b">B</text>
<text x="595.5" y="379.1" font-size="36.5" font-weight="bold" textLength="20.3" lengthAdjust="spacingAndGlyphs" font-family="'Liberation Sans',sans-serif" fill="#2b2b2b">C</text>
<g id="jawB">
<path d="M48.5,342 C55,350 58,358 57,368 C56,384 52,398 52.5,410 L60,465 L82,516 C84,524 87,530 87,536 C87,544 83,550 81,555 L391,555 L391,342 Z" fill="url(#gumB)"/>
<g clip-path="url(#cgB)">
<path d="M59,465C57.5,469.5 62.2,482.2 65,490C67.8,497.8 73.2,507.6 76,512C78.8,516.4 80.3,516.3 82,516.5C83.7,516.7 85.8,516.8 86,513C86.2,509.2 85,502.3 83,494C81,485.7 78,467.8 74,463C70,458.2 60.5,460.5 59,465Z M72,463C75.2,460.2 88,457.2 92,460C96,462.8 94.5,471.3 96,480C97.5,488.7 100.8,505.8 101,512C101.2,518.2 99,516.7 97,517C95,517.3 91.8,517.5 89,514C86.2,510.5 82.7,502.2 80,496C77.3,489.8 74.3,482.5 73,477C71.7,471.5 68.8,465.8 72,463Z M95,460C100.5,456.5 122,456 128,456C134,456 129.3,452.8 131,460C132.7,467.2 138.7,489.8 138,499C137.3,508.2 130.8,510.8 127,515C123.2,519.2 118.2,523.2 115,524C111.8,524.8 110.5,524 108,520C105.5,516 102.2,507.2 100,500C97.8,492.8 95.8,483.7 95,477C94.2,470.3 89.5,463.5 95,460Z M291.5,436.5C292.2,432.3 295.8,431.1 299.2,430C302.6,428.9 308.3,429.9 311.8,430.2C315.3,430.5 317.2,432.6 320.2,431.6C323.2,430.6 326,424.9 330,424C334,423.1 340.5,424 344,426C347.5,428 350.1,432.1 351,435.8C351.9,439.5 351.2,444.2 349.6,448.4C348,452.6 345.6,457.5 341.2,461C336.8,464.5 328.6,468.2 323,469.4C317.4,470.6 312.3,470.3 307.6,468C302.9,465.7 297.7,460.6 295,455.4C292.3,450.1 290.8,440.7 291.5,436.5Z M224,443.5C227,440.2 234.2,439.2 239,439C243.8,438.8 249.2,442.7 253,442.5C256.8,442.3 259,439.2 262,438C265,436.8 267.6,434.9 271.2,435C274.8,435.1 280.5,436.4 283.8,438.6C287.1,440.8 289.4,444.9 290.8,448.4C292.2,451.9 293.4,455.9 292.2,459.6C291,463.3 288,467.7 283.8,470.8C279.6,473.9 273.6,476.6 267,478.5C260.4,480.4 250.3,482.6 244,482C237.7,481.4 232.8,478.8 229,475C225.2,471.2 221.8,464.2 221,459C220.2,453.8 221,446.8 224,443.5Z M171.5,455.5C174.8,451.5 184.2,443.2 190,441.5C195.8,439.8 201.3,443.3 206,445.5C210.7,447.7 215.5,450.3 218,454.5C220.5,458.7 222.2,465 221,470.5C219.8,476 214.2,483.3 211,487.5C207.8,491.7 205.5,494.8 202,495.5C198.5,496.2 194.6,494.2 190,491.5C185.4,488.8 177.8,483.8 174.5,479.5C171.2,475.2 171,469.5 170.5,465.5C170,461.5 168.2,459.5 171.5,455.5Z M132,459C134.3,455.5 140,449.3 146,449C152,448.7 163.5,451.8 168,457C172.5,462.2 173,473.5 173,480C173,486.5 171.2,491.7 168,496C164.8,500.3 158,504.7 154,506C150,507.3 146.8,507 144,504C141.2,501 139,493.7 137,488C135,482.3 132.8,474.8 132,470C131.2,465.2 129.7,462.5 132,459Z M323,375C327.4,374.1 332.6,374.8 337,377C341.4,379.2 346.7,383.5 349.6,388.2C352.5,392.9 354.3,400.4 354.5,405C354.7,409.6 353.2,413.6 351,416C348.8,418.4 344.2,419.6 341.2,419.7C338.2,419.8 335.2,416.9 332.8,416.5C330.4,416.1 329.6,415.4 327,417C324.4,418.6 320.6,424.7 317.4,426C314.2,427.3 310.5,426.5 307.6,424.6C304.7,422.7 300.9,419.2 300,414.8C299.1,410.4 300.3,403.4 302,398C303.7,392.6 306.9,386.4 310.4,382.6C313.9,378.8 318.6,375.9 323,375Z M246,385.5C250.6,383.7 259.5,382.2 265.6,382C271.7,381.8 277.7,381.6 282.4,384C287.1,386.4 291.2,391.9 293.6,396.6C296,401.3 297.4,407.1 297,412C296.6,416.9 293.7,422.8 291,426C288.3,429.2 284.2,430.8 281,431C277.8,431.2 274.1,428.6 271.5,427.5C268.9,426.4 268,423 265.6,424.6C263.2,426.2 260.7,435.6 257.2,437.2C253.7,438.8 248.2,437 244.6,434.4C241,431.8 237.1,426.7 235.5,421.8C233.9,416.9 234.4,409.8 234.8,405C235.2,400.2 236.1,396.2 238,393C239.9,389.8 241.4,387.3 246,385.5Z M210,386C213.7,385.5 218.5,386.7 222,390C225.5,393.3 229.7,399.7 231,406C232.3,412.3 232.2,421.7 230,428C227.8,434.3 221.7,442 218,444C214.3,446 211.5,442.7 208,440C204.5,437.3 199.3,433.3 197,428C194.7,422.7 193.5,413.8 194,408C194.5,402.2 197.3,396.7 200,393C202.7,389.3 206.3,386.5 210,386Z M166,383C162.3,383.3 158,390 155,393C152,396 149.7,396.5 148,401C146.3,405.5 145.2,414 145,420C144.8,426 143.2,432 147,437C150.8,442 162.2,449.3 168,450C173.8,450.7 178,444 182,441C186,438 190.3,436.2 192,432C193.7,427.8 193,420.8 192,416C191,411.2 188.5,407.2 186,403C183.5,398.8 180.3,394.3 177,391C173.7,387.7 169.7,382.7 166,383Z M120,393C116.3,394.5 108.9,398.8 105,404C101.1,409.2 98.2,416.7 96.5,424C94.8,431.3 94.6,442.8 95,448C95.4,453.2 95.2,453.6 99,455C102.8,456.4 112.2,457 118,456.5C123.8,456 129.7,455.4 134,452C138.3,448.6 142.3,441.3 144,436C145.7,430.7 145.2,425.3 144,420C142.8,414.7 139.8,408.2 137,404C134.2,399.8 129.8,396.8 127,395C124.2,393.2 123.7,391.5 120,393Z M88,412C90.7,412 93,416.3 94,421C95,425.7 94.3,434.5 94,440C93.7,445.5 94.8,450.7 92,454C89.2,457.3 80.7,459.7 77,460C73.3,460.3 70.8,459.3 70,456C69.2,452.7 70.7,445.8 72,440C73.3,434.2 75.3,425.7 78,421C80.7,416.3 85.3,412 88,412Z M68,407C70.2,408.3 74.5,411.5 75,417C75.5,422.5 72.2,432.8 71,440C69.8,447.2 70.3,455.8 68,460C65.7,464.2 60.2,465 57,465C53.8,465 50.2,464.2 49,460C47.8,455.8 48.8,446.5 50,440C51.2,433.5 54,426.2 56,421C58,415.8 60,411.3 62,409C64,406.7 65.8,405.7 68,407Z" fill="#f4aca5" stroke="#f4aca5" stroke-width="42" stroke-linejoin="round" filter="url(#b7)" opacity="0.85"/>
<path d="M59,465C57.5,469.5 62.2,482.2 65,490C67.8,497.8 73.2,507.6 76,512C78.8,516.4 80.3,516.3 82,516.5C83.7,516.7 85.8,516.8 86,513C86.2,509.2 85,502.3 83,494C81,485.7 78,467.8 74,463C70,458.2 60.5,460.5 59,465Z M72,463C75.2,460.2 88,457.2 92,460C96,462.8 94.5,471.3 96,480C97.5,488.7 100.8,505.8 101,512C101.2,518.2 99,516.7 97,517C95,517.3 91.8,517.5 89,514C86.2,510.5 82.7,502.2 80,496C77.3,489.8 74.3,482.5 73,477C71.7,471.5 68.8,465.8 72,463Z M95,460C100.5,456.5 122,456 128,456C134,456 129.3,452.8 131,460C132.7,467.2 138.7,489.8 138,499C137.3,508.2 130.8,510.8 127,515C123.2,519.2 118.2,523.2 115,524C111.8,524.8 110.5,524 108,520C105.5,516 102.2,507.2 100,500C97.8,492.8 95.8,483.7 95,477C94.2,470.3 89.5,463.5 95,460Z M291.5,436.5C292.2,432.3 295.8,431.1 299.2,430C302.6,428.9 308.3,429.9 311.8,430.2C315.3,430.5 317.2,432.6 320.2,431.6C323.2,430.6 326,424.9 330,424C334,423.1 340.5,424 344,426C347.5,428 350.1,432.1 351,435.8C351.9,439.5 351.2,444.2 349.6,448.4C348,452.6 345.6,457.5 341.2,461C336.8,464.5 328.6,468.2 323,469.4C317.4,470.6 312.3,470.3 307.6,468C302.9,465.7 297.7,460.6 295,455.4C292.3,450.1 290.8,440.7 291.5,436.5Z M224,443.5C227,440.2 234.2,439.2 239,439C243.8,438.8 249.2,442.7 253,442.5C256.8,442.3 259,439.2 262,438C265,436.8 267.6,434.9 271.2,435C274.8,435.1 280.5,436.4 283.8,438.6C287.1,440.8 289.4,444.9 290.8,448.4C292.2,451.9 293.4,455.9 292.2,459.6C291,463.3 288,467.7 283.8,470.8C279.6,473.9 273.6,476.6 267,478.5C260.4,480.4 250.3,482.6 244,482C237.7,481.4 232.8,478.8 229,475C225.2,471.2 221.8,464.2 221,459C220.2,453.8 221,446.8 224,443.5Z M171.5,455.5C174.8,451.5 184.2,443.2 190,441.5C195.8,439.8 201.3,443.3 206,445.5C210.7,447.7 215.5,450.3 218,454.5C220.5,458.7 222.2,465 221,470.5C219.8,476 214.2,483.3 211,487.5C207.8,491.7 205.5,494.8 202,495.5C198.5,496.2 194.6,494.2 190,491.5C185.4,488.8 177.8,483.8 174.5,479.5C171.2,475.2 171,469.5 170.5,465.5C170,461.5 168.2,459.5 171.5,455.5Z M132,459C134.3,455.5 140,449.3 146,449C152,448.7 163.5,451.8 168,457C172.5,462.2 173,473.5 173,480C173,486.5 171.2,491.7 168,496C164.8,500.3 158,504.7 154,506C150,507.3 146.8,507 144,504C141.2,501 139,493.7 137,488C135,482.3 132.8,474.8 132,470C131.2,465.2 129.7,462.5 132,459Z M323,375C327.4,374.1 332.6,374.8 337,377C341.4,379.2 346.7,383.5 349.6,388.2C352.5,392.9 354.3,400.4 354.5,405C354.7,409.6 353.2,413.6 351,416C348.8,418.4 344.2,419.6 341.2,419.7C338.2,419.8 335.2,416.9 332.8,416.5C330.4,416.1 329.6,415.4 327,417C324.4,418.6 320.6,424.7 317.4,426C314.2,427.3 310.5,426.5 307.6,424.6C304.7,422.7 300.9,419.2 300,414.8C299.1,410.4 300.3,403.4 302,398C303.7,392.6 306.9,386.4 310.4,382.6C313.9,378.8 318.6,375.9 323,375Z M246,385.5C250.6,383.7 259.5,382.2 265.6,382C271.7,381.8 277.7,381.6 282.4,384C287.1,386.4 291.2,391.9 293.6,396.6C296,401.3 297.4,407.1 297,412C296.6,416.9 293.7,422.8 291,426C288.3,429.2 284.2,430.8 281,431C277.8,431.2 274.1,428.6 271.5,427.5C268.9,426.4 268,423 265.6,424.6C263.2,426.2 260.7,435.6 257.2,437.2C253.7,438.8 248.2,437 244.6,434.4C241,431.8 237.1,426.7 235.5,421.8C233.9,416.9 234.4,409.8 234.8,405C235.2,400.2 236.1,396.2 238,393C239.9,389.8 241.4,387.3 246,385.5Z M210,386C213.7,385.5 218.5,386.7 222,390C225.5,393.3 229.7,399.7 231,406C232.3,412.3 232.2,421.7 230,428C227.8,434.3 221.7,442 218,444C214.3,446 211.5,442.7 208,440C204.5,437.3 199.3,433.3 197,428C194.7,422.7 193.5,413.8 194,408C194.5,402.2 197.3,396.7 200,393C202.7,389.3 206.3,386.5 210,386Z M166,383C162.3,383.3 158,390 155,393C152,396 149.7,396.5 148,401C146.3,405.5 145.2,414 145,420C144.8,426 143.2,432 147,437C150.8,442 162.2,449.3 168,450C173.8,450.7 178,444 182,441C186,438 190.3,436.2 192,432C193.7,427.8 193,420.8 192,416C191,411.2 188.5,407.2 186,403C183.5,398.8 180.3,394.3 177,391C173.7,387.7 169.7,382.7 166,383Z M120,393C116.3,394.5 108.9,398.8 105,404C101.1,409.2 98.2,416.7 96.5,424C94.8,431.3 94.6,442.8 95,448C95.4,453.2 95.2,453.6 99,455C102.8,456.4 112.2,457 118,456.5C123.8,456 129.7,455.4 134,452C138.3,448.6 142.3,441.3 144,436C145.7,430.7 145.2,425.3 144,420C142.8,414.7 139.8,408.2 137,404C134.2,399.8 129.8,396.8 127,395C124.2,393.2 123.7,391.5 120,393Z M88,412C90.7,412 93,416.3 94,421C95,425.7 94.3,434.5 94,440C93.7,445.5 94.8,450.7 92,454C89.2,457.3 80.7,459.7 77,460C73.3,460.3 70.8,459.3 70,456C69.2,452.7 70.7,445.8 72,440C73.3,434.2 75.3,425.7 78,421C80.7,416.3 85.3,412 88,412Z M68,407C70.2,408.3 74.5,411.5 75,417C75.5,422.5 72.2,432.8 71,440C69.8,447.2 70.3,455.8 68,460C65.7,464.2 60.2,465 57,465C53.8,465 50.2,464.2 49,460C47.8,455.8 48.8,446.5 50,440C51.2,433.5 54,426.2 56,421C58,415.8 60,411.3 62,409C64,406.7 65.8,405.7 68,407Z" fill="none" stroke="#f9d3ce" stroke-width="19" stroke-linejoin="round" filter="url(#b2)" opacity="0.62"/>
<path d="M59,465C57.5,469.5 62.2,482.2 65,490C67.8,497.8 73.2,507.6 76,512C78.8,516.4 80.3,516.3 82,516.5C83.7,516.7 85.8,516.8 86,513C86.2,509.2 85,502.3 83,494C81,485.7 78,467.8 74,463C70,458.2 60.5,460.5 59,465Z M72,463C75.2,460.2 88,457.2 92,460C96,462.8 94.5,471.3 96,480C97.5,488.7 100.8,505.8 101,512C101.2,518.2 99,516.7 97,517C95,517.3 91.8,517.5 89,514C86.2,510.5 82.7,502.2 80,496C77.3,489.8 74.3,482.5 73,477C71.7,471.5 68.8,465.8 72,463Z M95,460C100.5,456.5 122,456 128,456C134,456 129.3,452.8 131,460C132.7,467.2 138.7,489.8 138,499C137.3,508.2 130.8,510.8 127,515C123.2,519.2 118.2,523.2 115,524C111.8,524.8 110.5,524 108,520C105.5,516 102.2,507.2 100,500C97.8,492.8 95.8,483.7 95,477C94.2,470.3 89.5,463.5 95,460Z M291.5,436.5C292.2,432.3 295.8,431.1 299.2,430C302.6,428.9 308.3,429.9 311.8,430.2C315.3,430.5 317.2,432.6 320.2,431.6C323.2,430.6 326,424.9 330,424C334,423.1 340.5,424 344,426C347.5,428 350.1,432.1 351,435.8C351.9,439.5 351.2,444.2 349.6,448.4C348,452.6 345.6,457.5 341.2,461C336.8,464.5 328.6,468.2 323,469.4C317.4,470.6 312.3,470.3 307.6,468C302.9,465.7 297.7,460.6 295,455.4C292.3,450.1 290.8,440.7 291.5,436.5Z M224,443.5C227,440.2 234.2,439.2 239,439C243.8,438.8 249.2,442.7 253,442.5C256.8,442.3 259,439.2 262,438C265,436.8 267.6,434.9 271.2,435C274.8,435.1 280.5,436.4 283.8,438.6C287.1,440.8 289.4,444.9 290.8,448.4C292.2,451.9 293.4,455.9 292.2,459.6C291,463.3 288,467.7 283.8,470.8C279.6,473.9 273.6,476.6 267,478.5C260.4,480.4 250.3,482.6 244,482C237.7,481.4 232.8,478.8 229,475C225.2,471.2 221.8,464.2 221,459C220.2,453.8 221,446.8 224,443.5Z M171.5,455.5C174.8,451.5 184.2,443.2 190,441.5C195.8,439.8 201.3,443.3 206,445.5C210.7,447.7 215.5,450.3 218,454.5C220.5,458.7 222.2,465 221,470.5C219.8,476 214.2,483.3 211,487.5C207.8,491.7 205.5,494.8 202,495.5C198.5,496.2 194.6,494.2 190,491.5C185.4,488.8 177.8,483.8 174.5,479.5C171.2,475.2 171,469.5 170.5,465.5C170,461.5 168.2,459.5 171.5,455.5Z M132,459C134.3,455.5 140,449.3 146,449C152,448.7 163.5,451.8 168,457C172.5,462.2 173,473.5 173,480C173,486.5 171.2,491.7 168,496C164.8,500.3 158,504.7 154,506C150,507.3 146.8,507 144,504C141.2,501 139,493.7 137,488C135,482.3 132.8,474.8 132,470C131.2,465.2 129.7,462.5 132,459Z M323,375C327.4,374.1 332.6,374.8 337,377C341.4,379.2 346.7,383.5 349.6,388.2C352.5,392.9 354.3,400.4 354.5,405C354.7,409.6 353.2,413.6 351,416C348.8,418.4 344.2,419.6 341.2,419.7C338.2,419.8 335.2,416.9 332.8,416.5C330.4,416.1 329.6,415.4 327,417C324.4,418.6 320.6,424.7 317.4,426C314.2,427.3 310.5,426.5 307.6,424.6C304.7,422.7 300.9,419.2 300,414.8C299.1,410.4 300.3,403.4 302,398C303.7,392.6 306.9,386.4 310.4,382.6C313.9,378.8 318.6,375.9 323,375Z M246,385.5C250.6,383.7 259.5,382.2 265.6,382C271.7,381.8 277.7,381.6 282.4,384C287.1,386.4 291.2,391.9 293.6,396.6C296,401.3 297.4,407.1 297,412C296.6,416.9 293.7,422.8 291,426C288.3,429.2 284.2,430.8 281,431C277.8,431.2 274.1,428.6 271.5,427.5C268.9,426.4 268,423 265.6,424.6C263.2,426.2 260.7,435.6 257.2,437.2C253.7,438.8 248.2,437 244.6,434.4C241,431.8 237.1,426.7 235.5,421.8C233.9,416.9 234.4,409.8 234.8,405C235.2,400.2 236.1,396.2 238,393C239.9,389.8 241.4,387.3 246,385.5Z M210,386C213.7,385.5 218.5,386.7 222,390C225.5,393.3 229.7,399.7 231,406C232.3,412.3 232.2,421.7 230,428C227.8,434.3 221.7,442 218,444C214.3,446 211.5,442.7 208,440C204.5,437.3 199.3,433.3 197,428C194.7,422.7 193.5,413.8 194,408C194.5,402.2 197.3,396.7 200,393C202.7,389.3 206.3,386.5 210,386Z M166,383C162.3,383.3 158,390 155,393C152,396 149.7,396.5 148,401C146.3,405.5 145.2,414 145,420C144.8,426 143.2,432 147,437C150.8,442 162.2,449.3 168,450C173.8,450.7 178,444 182,441C186,438 190.3,436.2 192,432C193.7,427.8 193,420.8 192,416C191,411.2 188.5,407.2 186,403C183.5,398.8 180.3,394.3 177,391C173.7,387.7 169.7,382.7 166,383Z M120,393C116.3,394.5 108.9,398.8 105,404C101.1,409.2 98.2,416.7 96.5,424C94.8,431.3 94.6,442.8 95,448C95.4,453.2 95.2,453.6 99,455C102.8,456.4 112.2,457 118,456.5C123.8,456 129.7,455.4 134,452C138.3,448.6 142.3,441.3 144,436C145.7,430.7 145.2,425.3 144,420C142.8,414.7 139.8,408.2 137,404C134.2,399.8 129.8,396.8 127,395C124.2,393.2 123.7,391.5 120,393Z M88,412C90.7,412 93,416.3 94,421C95,425.7 94.3,434.5 94,440C93.7,445.5 94.8,450.7 92,454C89.2,457.3 80.7,459.7 77,460C73.3,460.3 70.8,459.3 70,456C69.2,452.7 70.7,445.8 72,440C73.3,434.2 75.3,425.7 78,421C80.7,416.3 85.3,412 88,412Z M68,407C70.2,408.3 74.5,411.5 75,417C75.5,422.5 72.2,432.8 71,440C69.8,447.2 70.3,455.8 68,460C65.7,464.2 60.2,465 57,465C53.8,465 50.2,464.2 49,460C47.8,455.8 48.8,446.5 50,440C51.2,433.5 54,426.2 56,421C58,415.8 60,411.3 62,409C64,406.7 65.8,405.7 68,407Z" fill="#eb9d96" stroke="#eb9d96" stroke-width="11" stroke-linejoin="round" filter="url(#b15)"/>
<path d="M346,398 L355,402.5 C360,405.5 365,406.8 369,406.5 C375,406 379,403 382,399.5 C386,395 389,390.5 391,386.4 L391,443 C389,445.5 386,447 383,447.5 C378,448.3 373,447 369,444 C364,441.5 360,441.8 355,441.8 L346,441 Z" fill="#2a2627"/>
<path d="M172,451 L178,448 L196,440 L222,442 L233,436 L262,432 L297,428 L322,421 L352,420" fill="none" stroke="#2a2627" stroke-width="15" stroke-linejoin="round" stroke-linecap="round"/>
<path d="M59,465C57.5,469.5 62.2,482.2 65,490C67.8,497.8 73.2,507.6 76,512C78.8,516.4 80.3,516.3 82,516.5C83.7,516.7 85.8,516.8 86,513C86.2,509.2 85,502.3 83,494C81,485.7 78,467.8 74,463C70,458.2 60.5,460.5 59,465Z M72,463C75.2,460.2 88,457.2 92,460C96,462.8 94.5,471.3 96,480C97.5,488.7 100.8,505.8 101,512C101.2,518.2 99,516.7 97,517C95,517.3 91.8,517.5 89,514C86.2,510.5 82.7,502.2 80,496C77.3,489.8 74.3,482.5 73,477C71.7,471.5 68.8,465.8 72,463Z M95,460C100.5,456.5 122,456 128,456C134,456 129.3,452.8 131,460C132.7,467.2 138.7,489.8 138,499C137.3,508.2 130.8,510.8 127,515C123.2,519.2 118.2,523.2 115,524C111.8,524.8 110.5,524 108,520C105.5,516 102.2,507.2 100,500C97.8,492.8 95.8,483.7 95,477C94.2,470.3 89.5,463.5 95,460Z M291.5,436.5C292.2,432.3 295.8,431.1 299.2,430C302.6,428.9 308.3,429.9 311.8,430.2C315.3,430.5 317.2,432.6 320.2,431.6C323.2,430.6 326,424.9 330,424C334,423.1 340.5,424 344,426C347.5,428 350.1,432.1 351,435.8C351.9,439.5 351.2,444.2 349.6,448.4C348,452.6 345.6,457.5 341.2,461C336.8,464.5 328.6,468.2 323,469.4C317.4,470.6 312.3,470.3 307.6,468C302.9,465.7 297.7,460.6 295,455.4C292.3,450.1 290.8,440.7 291.5,436.5Z M224,443.5C227,440.2 234.2,439.2 239,439C243.8,438.8 249.2,442.7 253,442.5C256.8,442.3 259,439.2 262,438C265,436.8 267.6,434.9 271.2,435C274.8,435.1 280.5,436.4 283.8,438.6C287.1,440.8 289.4,444.9 290.8,448.4C292.2,451.9 293.4,455.9 292.2,459.6C291,463.3 288,467.7 283.8,470.8C279.6,473.9 273.6,476.6 267,478.5C260.4,480.4 250.3,482.6 244,482C237.7,481.4 232.8,478.8 229,475C225.2,471.2 221.8,464.2 221,459C220.2,453.8 221,446.8 224,443.5Z M171.5,455.5C174.8,451.5 184.2,443.2 190,441.5C195.8,439.8 201.3,443.3 206,445.5C210.7,447.7 215.5,450.3 218,454.5C220.5,458.7 222.2,465 221,470.5C219.8,476 214.2,483.3 211,487.5C207.8,491.7 205.5,494.8 202,495.5C198.5,496.2 194.6,494.2 190,491.5C185.4,488.8 177.8,483.8 174.5,479.5C171.2,475.2 171,469.5 170.5,465.5C170,461.5 168.2,459.5 171.5,455.5Z M132,459C134.3,455.5 140,449.3 146,449C152,448.7 163.5,451.8 168,457C172.5,462.2 173,473.5 173,480C173,486.5 171.2,491.7 168,496C164.8,500.3 158,504.7 154,506C150,507.3 146.8,507 144,504C141.2,501 139,493.7 137,488C135,482.3 132.8,474.8 132,470C131.2,465.2 129.7,462.5 132,459Z M323,375C327.4,374.1 332.6,374.8 337,377C341.4,379.2 346.7,383.5 349.6,388.2C352.5,392.9 354.3,400.4 354.5,405C354.7,409.6 353.2,413.6 351,416C348.8,418.4 344.2,419.6 341.2,419.7C338.2,419.8 335.2,416.9 332.8,416.5C330.4,416.1 329.6,415.4 327,417C324.4,418.6 320.6,424.7 317.4,426C314.2,427.3 310.5,426.5 307.6,424.6C304.7,422.7 300.9,419.2 300,414.8C299.1,410.4 300.3,403.4 302,398C303.7,392.6 306.9,386.4 310.4,382.6C313.9,378.8 318.6,375.9 323,375Z M246,385.5C250.6,383.7 259.5,382.2 265.6,382C271.7,381.8 277.7,381.6 282.4,384C287.1,386.4 291.2,391.9 293.6,396.6C296,401.3 297.4,407.1 297,412C296.6,416.9 293.7,422.8 291,426C288.3,429.2 284.2,430.8 281,431C277.8,431.2 274.1,428.6 271.5,427.5C268.9,426.4 268,423 265.6,424.6C263.2,426.2 260.7,435.6 257.2,437.2C253.7,438.8 248.2,437 244.6,434.4C241,431.8 237.1,426.7 235.5,421.8C233.9,416.9 234.4,409.8 234.8,405C235.2,400.2 236.1,396.2 238,393C239.9,389.8 241.4,387.3 246,385.5Z M210,386C213.7,385.5 218.5,386.7 222,390C225.5,393.3 229.7,399.7 231,406C232.3,412.3 232.2,421.7 230,428C227.8,434.3 221.7,442 218,444C214.3,446 211.5,442.7 208,440C204.5,437.3 199.3,433.3 197,428C194.7,422.7 193.5,413.8 194,408C194.5,402.2 197.3,396.7 200,393C202.7,389.3 206.3,386.5 210,386Z M166,383C162.3,383.3 158,390 155,393C152,396 149.7,396.5 148,401C146.3,405.5 145.2,414 145,420C144.8,426 143.2,432 147,437C150.8,442 162.2,449.3 168,450C173.8,450.7 178,444 182,441C186,438 190.3,436.2 192,432C193.7,427.8 193,420.8 192,416C191,411.2 188.5,407.2 186,403C183.5,398.8 180.3,394.3 177,391C173.7,387.7 169.7,382.7 166,383Z M120,393C116.3,394.5 108.9,398.8 105,404C101.1,409.2 98.2,416.7 96.5,424C94.8,431.3 94.6,442.8 95,448C95.4,453.2 95.2,453.6 99,455C102.8,456.4 112.2,457 118,456.5C123.8,456 129.7,455.4 134,452C138.3,448.6 142.3,441.3 144,436C145.7,430.7 145.2,425.3 144,420C142.8,414.7 139.8,408.2 137,404C134.2,399.8 129.8,396.8 127,395C124.2,393.2 123.7,391.5 120,393Z M88,412C90.7,412 93,416.3 94,421C95,425.7 94.3,434.5 94,440C93.7,445.5 94.8,450.7 92,454C89.2,457.3 80.7,459.7 77,460C73.3,460.3 70.8,459.3 70,456C69.2,452.7 70.7,445.8 72,440C73.3,434.2 75.3,425.7 78,421C80.7,416.3 85.3,412 88,412Z M68,407C70.2,408.3 74.5,411.5 75,417C75.5,422.5 72.2,432.8 71,440C69.8,447.2 70.3,455.8 68,460C65.7,464.2 60.2,465 57,465C53.8,465 50.2,464.2 49,460C47.8,455.8 48.8,446.5 50,440C51.2,433.5 54,426.2 56,421C58,415.8 60,411.3 62,409C64,406.7 65.8,405.7 68,407Z" fill="none" stroke="#fff" stroke-width="3.2" stroke-linejoin="round" filter="url(#b1)" opacity="0.3" mask="url(#mkB)"/>
</g>
<path d="M59,465C57.5,469.5 62.2,482.2 65,490C67.8,497.8 73.2,507.6 76,512C78.8,516.4 80.3,516.3 82,516.5C83.7,516.7 85.8,516.8 86,513C86.2,509.2 85,502.3 83,494C81,485.7 78,467.8 74,463C70,458.2 60.5,460.5 59,465Z" fill="#fff" filter="url(#ts)"/>
<path d="M59,465C57.5,469.5 62.2,482.2 65,490C67.8,497.8 73.2,507.6 76,512C78.8,516.4 80.3,516.3 82,516.5C83.7,516.7 85.8,516.8 86,513C86.2,509.2 85,502.3 83,494C81,485.7 78,467.8 74,463C70,458.2 60.5,460.5 59,465Z" fill="none" stroke="#2e2b2b" stroke-width="1.7" stroke-linejoin="round"/>
<path d="M72,463C75.2,460.2 88,457.2 92,460C96,462.8 94.5,471.3 96,480C97.5,488.7 100.8,505.8 101,512C101.2,518.2 99,516.7 97,517C95,517.3 91.8,517.5 89,514C86.2,510.5 82.7,502.2 80,496C77.3,489.8 74.3,482.5 73,477C71.7,471.5 68.8,465.8 72,463Z" fill="#fff" filter="url(#ts)"/>
<path d="M72,463C75.2,460.2 88,457.2 92,460C96,462.8 94.5,471.3 96,480C97.5,488.7 100.8,505.8 101,512C101.2,518.2 99,516.7 97,517C95,517.3 91.8,517.5 89,514C86.2,510.5 82.7,502.2 80,496C77.3,489.8 74.3,482.5 73,477C71.7,471.5 68.8,465.8 72,463Z" fill="none" stroke="#2e2b2b" stroke-width="1.7" stroke-linejoin="round"/>
<path d="M95,460C100.5,456.5 122,456 128,456C134,456 129.3,452.8 131,460C132.7,467.2 138.7,489.8 138,499C137.3,508.2 130.8,510.8 127,515C123.2,519.2 118.2,523.2 115,524C111.8,524.8 110.5,524 108,520C105.5,516 102.2,507.2 100,500C97.8,492.8 95.8,483.7 95,477C94.2,470.3 89.5,463.5 95,460Z" fill="#fff" filter="url(#ts)"/>
<path d="M95,460C100.5,456.5 122,456 128,456C134,456 129.3,452.8 131,460C132.7,467.2 138.7,489.8 138,499C137.3,508.2 130.8,510.8 127,515C123.2,519.2 118.2,523.2 115,524C111.8,524.8 110.5,524 108,520C105.5,516 102.2,507.2 100,500C97.8,492.8 95.8,483.7 95,477C94.2,470.3 89.5,463.5 95,460Z" fill="none" stroke="#2e2b2b" stroke-width="1.7" stroke-linejoin="round"/>
<path d="M291.5,436.5C292.2,432.3 295.8,431.1 299.2,430C302.6,428.9 308.3,429.9 311.8,430.2C315.3,430.5 317.2,432.6 320.2,431.6C323.2,430.6 326,424.9 330,424C334,423.1 340.5,424 344,426C347.5,428 350.1,432.1 351,435.8C351.9,439.5 351.2,444.2 349.6,448.4C348,452.6 345.6,457.5 341.2,461C336.8,464.5 328.6,468.2 323,469.4C317.4,470.6 312.3,470.3 307.6,468C302.9,465.7 297.7,460.6 295,455.4C292.3,450.1 290.8,440.7 291.5,436.5Z" fill="#fff" filter="url(#ts)"/>
<path d="M291.5,436.5C292.2,432.3 295.8,431.1 299.2,430C302.6,428.9 308.3,429.9 311.8,430.2C315.3,430.5 317.2,432.6 320.2,431.6C323.2,430.6 326,424.9 330,424C334,423.1 340.5,424 344,426C347.5,428 350.1,432.1 351,435.8C351.9,439.5 351.2,444.2 349.6,448.4C348,452.6 345.6,457.5 341.2,461C336.8,464.5 328.6,468.2 323,469.4C317.4,470.6 312.3,470.3 307.6,468C302.9,465.7 297.7,460.6 295,455.4C292.3,450.1 290.8,440.7 291.5,436.5Z" fill="none" stroke="#2e2b2b" stroke-width="1.7" stroke-linejoin="round"/>
<path d="M224,443.5C227,440.2 234.2,439.2 239,439C243.8,438.8 249.2,442.7 253,442.5C256.8,442.3 259,439.2 262,438C265,436.8 267.6,434.9 271.2,435C274.8,435.1 280.5,436.4 283.8,438.6C287.1,440.8 289.4,444.9 290.8,448.4C292.2,451.9 293.4,455.9 292.2,459.6C291,463.3 288,467.7 283.8,470.8C279.6,473.9 273.6,476.6 267,478.5C260.4,480.4 250.3,482.6 244,482C237.7,481.4 232.8,478.8 229,475C225.2,471.2 221.8,464.2 221,459C220.2,453.8 221,446.8 224,443.5Z" fill="#fff" filter="url(#ts)"/>
<path d="M224,443.5C227,440.2 234.2,439.2 239,439C243.8,438.8 249.2,442.7 253,442.5C256.8,442.3 259,439.2 262,438C265,436.8 267.6,434.9 271.2,435C274.8,435.1 280.5,436.4 283.8,438.6C287.1,440.8 289.4,444.9 290.8,448.4C292.2,451.9 293.4,455.9 292.2,459.6C291,463.3 288,467.7 283.8,470.8C279.6,473.9 273.6,476.6 267,478.5C260.4,480.4 250.3,482.6 244,482C237.7,481.4 232.8,478.8 229,475C225.2,471.2 221.8,464.2 221,459C220.2,453.8 221,446.8 224,443.5Z" fill="none" stroke="#2e2b2b" stroke-width="1.7" stroke-linejoin="round"/>
<path d="M171.5,455.5C174.8,451.5 184.2,443.2 190,441.5C195.8,439.8 201.3,443.3 206,445.5C210.7,447.7 215.5,450.3 218,454.5C220.5,458.7 222.2,465 221,470.5C219.8,476 214.2,483.3 211,487.5C207.8,491.7 205.5,494.8 202,495.5C198.5,496.2 194.6,494.2 190,491.5C185.4,488.8 177.8,483.8 174.5,479.5C171.2,475.2 171,469.5 170.5,465.5C170,461.5 168.2,459.5 171.5,455.5Z" fill="#fff" filter="url(#ts)"/>
<path d="M171.5,455.5C174.8,451.5 184.2,443.2 190,441.5C195.8,439.8 201.3,443.3 206,445.5C210.7,447.7 215.5,450.3 218,454.5C220.5,458.7 222.2,465 221,470.5C219.8,476 214.2,483.3 211,487.5C207.8,491.7 205.5,494.8 202,495.5C198.5,496.2 194.6,494.2 190,491.5C185.4,488.8 177.8,483.8 174.5,479.5C171.2,475.2 171,469.5 170.5,465.5C170,461.5 168.2,459.5 171.5,455.5Z" fill="none" stroke="#2e2b2b" stroke-width="1.7" stroke-linejoin="round"/>
<path d="M132,459C134.3,455.5 140,449.3 146,449C152,448.7 163.5,451.8 168,457C172.5,462.2 173,473.5 173,480C173,486.5 171.2,491.7 168,496C164.8,500.3 158,504.7 154,506C150,507.3 146.8,507 144,504C141.2,501 139,493.7 137,488C135,482.3 132.8,474.8 132,470C131.2,465.2 129.7,462.5 132,459Z" fill="#fff" filter="url(#ts)"/>
<path d="M132,459C134.3,455.5 140,449.3 146,449C152,448.7 163.5,451.8 168,457C172.5,462.2 173,473.5 173,480C173,486.5 171.2,491.7 168,496C164.8,500.3 158,504.7 154,506C150,507.3 146.8,507 144,504C141.2,501 139,493.7 137,488C135,482.3 132.8,474.8 132,470C131.2,465.2 129.7,462.5 132,459Z" fill="none" stroke="#2e2b2b" stroke-width="1.7" stroke-linejoin="round"/>
<path d="M323,375C327.4,374.1 332.6,374.8 337,377C341.4,379.2 346.7,383.5 349.6,388.2C352.5,392.9 354.3,400.4 354.5,405C354.7,409.6 353.2,413.6 351,416C348.8,418.4 344.2,419.6 341.2,419.7C338.2,419.8 335.2,416.9 332.8,416.5C330.4,416.1 329.6,415.4 327,417C324.4,418.6 320.6,424.7 317.4,426C314.2,427.3 310.5,426.5 307.6,424.6C304.7,422.7 300.9,419.2 300,414.8C299.1,410.4 300.3,403.4 302,398C303.7,392.6 306.9,386.4 310.4,382.6C313.9,378.8 318.6,375.9 323,375Z" fill="#fff" filter="url(#ts)"/>
<path d="M323,375C327.4,374.1 332.6,374.8 337,377C341.4,379.2 346.7,383.5 349.6,388.2C352.5,392.9 354.3,400.4 354.5,405C354.7,409.6 353.2,413.6 351,416C348.8,418.4 344.2,419.6 341.2,419.7C338.2,419.8 335.2,416.9 332.8,416.5C330.4,416.1 329.6,415.4 327,417C324.4,418.6 320.6,424.7 317.4,426C314.2,427.3 310.5,426.5 307.6,424.6C304.7,422.7 300.9,419.2 300,414.8C299.1,410.4 300.3,403.4 302,398C303.7,392.6 306.9,386.4 310.4,382.6C313.9,378.8 318.6,375.9 323,375Z" fill="none" stroke="#2e2b2b" stroke-width="1.7" stroke-linejoin="round"/>
<path d="M246,385.5C250.6,383.7 259.5,382.2 265.6,382C271.7,381.8 277.7,381.6 282.4,384C287.1,386.4 291.2,391.9 293.6,396.6C296,401.3 297.4,407.1 297,412C296.6,416.9 293.7,422.8 291,426C288.3,429.2 284.2,430.8 281,431C277.8,431.2 274.1,428.6 271.5,427.5C268.9,426.4 268,423 265.6,424.6C263.2,426.2 260.7,435.6 257.2,437.2C253.7,438.8 248.2,437 244.6,434.4C241,431.8 237.1,426.7 235.5,421.8C233.9,416.9 234.4,409.8 234.8,405C235.2,400.2 236.1,396.2 238,393C239.9,389.8 241.4,387.3 246,385.5Z" fill="#fff" filter="url(#ts)"/>
<path d="M246,385.5C250.6,383.7 259.5,382.2 265.6,382C271.7,381.8 277.7,381.6 282.4,384C287.1,386.4 291.2,391.9 293.6,396.6C296,401.3 297.4,407.1 297,412C296.6,416.9 293.7,422.8 291,426C288.3,429.2 284.2,430.8 281,431C277.8,431.2 274.1,428.6 271.5,427.5C268.9,426.4 268,423 265.6,424.6C263.2,426.2 260.7,435.6 257.2,437.2C253.7,438.8 248.2,437 244.6,434.4C241,431.8 237.1,426.7 235.5,421.8C233.9,416.9 234.4,409.8 234.8,405C235.2,400.2 236.1,396.2 238,393C239.9,389.8 241.4,387.3 246,385.5Z" fill="none" stroke="#2e2b2b" stroke-width="1.7" stroke-linejoin="round"/>
<path d="M210,386C213.7,385.5 218.5,386.7 222,390C225.5,393.3 229.7,399.7 231,406C232.3,412.3 232.2,421.7 230,428C227.8,434.3 221.7,442 218,444C214.3,446 211.5,442.7 208,440C204.5,437.3 199.3,433.3 197,428C194.7,422.7 193.5,413.8 194,408C194.5,402.2 197.3,396.7 200,393C202.7,389.3 206.3,386.5 210,386Z" fill="#fff" filter="url(#ts)"/>
<path d="M210,386C213.7,385.5 218.5,386.7 222,390C225.5,393.3 229.7,399.7 231,406C232.3,412.3 232.2,421.7 230,428C227.8,434.3 221.7,442 218,444C214.3,446 211.5,442.7 208,440C204.5,437.3 199.3,433.3 197,428C194.7,422.7 193.5,413.8 194,408C194.5,402.2 197.3,396.7 200,393C202.7,389.3 206.3,386.5 210,386Z" fill="none" stroke="#2e2b2b" stroke-width="1.7" stroke-linejoin="round"/>
<path d="M166,383C162.3,383.3 158,390 155,393C152,396 149.7,396.5 148,401C146.3,405.5 145.2,414 145,420C144.8,426 143.2,432 147,437C150.8,442 162.2,449.3 168,450C173.8,450.7 178,444 182,441C186,438 190.3,436.2 192,432C193.7,427.8 193,420.8 192,416C191,411.2 188.5,407.2 186,403C183.5,398.8 180.3,394.3 177,391C173.7,387.7 169.7,382.7 166,383Z" fill="#fff" filter="url(#ts)"/>
<path d="M166,383C162.3,383.3 158,390 155,393C152,396 149.7,396.5 148,401C146.3,405.5 145.2,414 145,420C144.8,426 143.2,432 147,437C150.8,442 162.2,449.3 168,450C173.8,450.7 178,444 182,441C186,438 190.3,436.2 192,432C193.7,427.8 193,420.8 192,416C191,411.2 188.5,407.2 186,403C183.5,398.8 180.3,394.3 177,391C173.7,387.7 169.7,382.7 166,383Z" fill="none" stroke="#2e2b2b" stroke-width="1.7" stroke-linejoin="round"/>
<path d="M120,393C116.3,394.5 108.9,398.8 105,404C101.1,409.2 98.2,416.7 96.5,424C94.8,431.3 94.6,442.8 95,448C95.4,453.2 95.2,453.6 99,455C102.8,456.4 112.2,457 118,456.5C123.8,456 129.7,455.4 134,452C138.3,448.6 142.3,441.3 144,436C145.7,430.7 145.2,425.3 144,420C142.8,414.7 139.8,408.2 137,404C134.2,399.8 129.8,396.8 127,395C124.2,393.2 123.7,391.5 120,393Z" fill="#fff" filter="url(#ts)"/>
<path d="M120,393C116.3,394.5 108.9,398.8 105,404C101.1,409.2 98.2,416.7 96.5,424C94.8,431.3 94.6,442.8 95,448C95.4,453.2 95.2,453.6 99,455C102.8,456.4 112.2,457 118,456.5C123.8,456 129.7,455.4 134,452C138.3,448.6 142.3,441.3 144,436C145.7,430.7 145.2,425.3 144,420C142.8,414.7 139.8,408.2 137,404C134.2,399.8 129.8,396.8 127,395C124.2,393.2 123.7,391.5 120,393Z" fill="none" stroke="#2e2b2b" stroke-width="1.7" stroke-linejoin="round"/>
<path d="M88,412C90.7,412 93,416.3 94,421C95,425.7 94.3,434.5 94,440C93.7,445.5 94.8,450.7 92,454C89.2,457.3 80.7,459.7 77,460C73.3,460.3 70.8,459.3 70,456C69.2,452.7 70.7,445.8 72,440C73.3,434.2 75.3,425.7 78,421C80.7,416.3 85.3,412 88,412Z" fill="#fff" filter="url(#ts)"/>
<path d="M88,412C90.7,412 93,416.3 94,421C95,425.7 94.3,434.5 94,440C93.7,445.5 94.8,450.7 92,454C89.2,457.3 80.7,459.7 77,460C73.3,460.3 70.8,459.3 70,456C69.2,452.7 70.7,445.8 72,440C73.3,434.2 75.3,425.7 78,421C80.7,416.3 85.3,412 88,412Z" fill="none" stroke="#2e2b2b" stroke-width="1.7" stroke-linejoin="round"/>
<path d="M68,407C70.2,408.3 74.5,411.5 75,417C75.5,422.5 72.2,432.8 71,440C69.8,447.2 70.3,455.8 68,460C65.7,464.2 60.2,465 57,465C53.8,465 50.2,464.2 49,460C47.8,455.8 48.8,446.5 50,440C51.2,433.5 54,426.2 56,421C58,415.8 60,411.3 62,409C64,406.7 65.8,405.7 68,407Z" fill="#fff" filter="url(#ts)"/>
<path d="M68,407C70.2,408.3 74.5,411.5 75,417C75.5,422.5 72.2,432.8 71,440C69.8,447.2 70.3,455.8 68,460C65.7,464.2 60.2,465 57,465C53.8,465 50.2,464.2 49,460C47.8,455.8 48.8,446.5 50,440C51.2,433.5 54,426.2 56,421C58,415.8 60,411.3 62,409C64,406.7 65.8,405.7 68,407Z" fill="none" stroke="#2e2b2b" stroke-width="1.7" stroke-linejoin="round"/>
<path d="M47.2,454 C48,460 51,466 56,466.3 C61,466.3 65,463.5 69,462.2 C77,460 85,458 91,456.2 L104,457 C110,457 116,456.6 120,455.8 C126,454.5 130,453 133,451.5 C136,449.5 138,447.5 139.5,445.5 L152,447 C157,449.5 163,451.8 168,452 L173.5,450.5" fill="none" stroke="#3a3a3a" stroke-width="6" stroke-linecap="round" stroke-linejoin="round"/><path d="M47.2,454 C48,460 51,466 56,466.3 C61,466.3 65,463.5 69,462.2 C77,460 85,458 91,456.2 L104,457 C110,457 116,456.6 120,455.8 C126,454.5 130,453 133,451.5 C136,449.5 138,447.5 139.5,445.5 L152,447 C157,449.5 163,451.8 168,452 L173.5,450.5" fill="none" stroke="#a9acae" stroke-width="3.6" stroke-linecap="round" stroke-linejoin="round"/><path d="M47.2,454 C48,460 51,466 56,466.3 C61,466.3 65,463.5 69,462.2 C77,460 85,458 91,456.2 L104,457 C110,457 116,456.6 120,455.8 C126,454.5 130,453 133,451.5 C136,449.5 138,447.5 139.5,445.5 L152,447 C157,449.5 163,451.8 168,452 L173.5,450.5" fill="none" stroke="#d9dcdd" stroke-width="1" stroke-linecap="round" stroke-linejoin="round" transform="translate(-0.3,-0.7)"/><path d="M149.2,400 C155,396.5 162,395 168,395 C175,395.5 180,398 184,401.5 C188.5,406 191,411 192.3,416 C193.6,421 194,425 193.4,429 C192.8,433 191.6,436 190,438.5" fill="none" stroke="#3a3a3a" stroke-width="6" stroke-linecap="round" stroke-linejoin="round"/><path d="M149.2,400 C155,396.5 162,395 168,395 C175,395.5 180,398 184,401.5 C188.5,406 191,411 192.3,416 C193.6,421 194,425 193.4,429 C192.8,433 191.6,436 190,438.5" fill="none" stroke="#a9acae" stroke-width="3.6" stroke-linecap="round" stroke-linejoin="round"/><path d="M149.2,400 C155,396.5 162,395 168,395 C175,395.5 180,398 184,401.5 C188.5,406 191,411 192.3,416 C193.6,421 194,425 193.4,429 C192.8,433 191.6,436 190,438.5" fill="none" stroke="#d9dcdd" stroke-width="1" stroke-linecap="round" stroke-linejoin="round" transform="translate(-0.3,-0.7)"/><path d="M88,457.2 L94.4,450 L102.5,457.8 Z M137,446.8 L144,436.4 L152,447.6 L143,451.4 Z" fill="#a9acae" stroke="#3a3a3a" stroke-width="1.3" stroke-linejoin="round"/><path d="M267.3,425.1 L265,413.4 L264.3,425.3 Z" fill="#a9b5bc"/><path d="M332.9,415.4 L330,405 L329.9,415.8 Z" fill="#a9b5bc"/><path d="M259.4,456.5 L255,444.4 L256.6,457.1 Z" fill="#a9b5bc"/><path d="M256.8,456.3 L254.2,465.4 L259.2,457.3 Z" fill="#a9b5bc"/><path d="M257.4,457.9 L265.8,461 L258.6,455.7 Z" fill="#a9b5bc"/><circle cx="258" cy="456.8" r="1.4" fill="#a9b5bc"/><path d="M323,446 L318.8,434 L320.2,446.6 Z" fill="#a9b5bc"/><path d="M320.6,445.5 L317.2,451.4 L322.6,447.1 Z" fill="#a9b5bc"/><path d="M320.9,447.4 L327.4,449.8 L322.3,445.2 Z" fill="#a9b5bc"/><circle cx="321.6" cy="446.3" r="1.4" fill="#a9b5bc"/><path d="M211.4,403.6 V413.5 H206 L213,432 L220,413.5 H214.6 V403.6 Z" fill="#2a2627"/><path d="M271,391.7 V402.8 H265.6 L272.6,421.8 L279.6,402.8 H274.2 V391.7 Z" fill="#2a2627"/><path d="M323.1,385 V396 H317.9 L324.7,415.5 L331.4,396 H326.3 V385 Z" fill="#2a2627"/><path d="M197.4,484 V473.5 H192 L199,456 L206,473.5 H200.6 V484 Z" fill="#2a2627"/><path d="M272.1,471.5 V460.9 H266.7 L273.7,441.4 L280.7,460.9 H275.3 V471.5 Z" fill="#2a2627"/><path d="M333.4,462.4 V451.1 H328 L335,431.6 L342,451.1 H336.6 V462.4 Z" fill="#2a2627"/>
</g>
<g id="jawC">
<path d="M625,342 C632,348 635.5,356 635,366 C634,382 629,398 629.5,412 L638,470 L658,517 C660,524 663,530 663,536 C663,544 659,550 657,555 L968,555 L968,342 Z" fill="url(#gumB)"/>
<g clip-path="url(#cgC)">
<path d="M637,480C635.8,483.8 639.5,494 642,500C644.5,506 649.3,512.9 652,516C654.7,519.1 656.3,518.8 658,518.5C659.7,518.2 662.2,517.8 662,514C661.8,510.2 659.2,502.2 657,496C654.8,489.8 652.3,479.7 649,477C645.7,474.3 638.2,476.2 637,480Z M648,473C651.2,469.3 663.8,460.8 668,463C672.2,465.2 671.3,477.5 673,486C674.7,494.5 678,508.7 678,514C678,519.3 675.2,517.7 673,518C670.8,518.3 667.8,519 665,516C662.2,513 658.7,505.2 656,500C653.3,494.8 650.3,489.5 649,485C647.7,480.5 644.8,476.7 648,473Z M669,458C670.2,454 673.5,452.7 677,453C680.5,453.3 685.5,458 690,460C694.5,462 700.8,461.7 704,465C707.2,468.3 707.5,474.3 709,480C710.5,485.7 714.3,493 713,499C711.7,505 704.8,511.8 701,516C697.2,520.2 692.8,523.3 690,524C687.2,524.7 686.3,524 684,520C681.7,516 678.3,507.2 676,500C673.7,492.8 671.2,484 670,477C668.8,470 667.8,462 669,458Z M867,438C868,435 869.8,433.8 873,432C876.2,430.2 881.2,428.7 886,427.5C890.8,426.3 897.3,425.4 902,425C906.7,424.6 910.2,424 914,425C917.8,426 922.2,428.5 924.5,431C926.8,433.5 928.8,435.5 928,440C927.2,444.5 924,453.3 920,458C916,462.7 909.3,466 904,468C898.7,470 893,470.7 888,470C883,469.3 877.5,467.3 874,464C870.5,460.7 868.2,454.3 867,450C865.8,445.7 866,441 867,438Z M797,449C798.3,444.2 801.8,443 806,441.5C810.2,440 817,441.1 822,440C827,438.9 830.7,435.8 836,435C841.3,434.2 849.2,433.7 854,435C858.8,436.3 863.2,438.5 865,443C866.8,447.5 867.5,456.2 865,462C862.5,467.8 855.8,474.3 850,478C844.2,481.7 836.7,483.3 830,484C823.3,484.7 815.3,484.3 810,482C804.7,479.7 800.2,475.5 798,470C795.8,464.5 795.7,453.8 797,449Z M748,458C750.5,453.7 759,445 764,443C769,441 773,443.8 778,446C783,448.2 790.8,451.7 794,456C797.2,460.3 798.3,466.3 797,472C795.7,477.7 789.5,485.8 786,490C782.5,494.2 779.3,496.3 776,497C772.7,497.7 770,496.5 766,494C762,491.5 754.8,486.2 752,482C749.2,477.8 749.7,473 749,469C748.3,465 745.5,462.3 748,458Z M706,464C707.8,459.8 714,450.3 718,448C722,445.7 725.3,448.3 730,450C734.7,451.7 742.8,453 746,458C749.2,463 749.3,473.7 749,480C748.7,486.3 747.2,491.5 744,496C740.8,500.5 734,505.7 730,507C726,508.3 723,506.8 720,504C717,501.2 714.2,495.2 712,490C709.8,484.8 708,477.3 707,473C706,468.7 704.2,468.2 706,464Z M904,376C909.3,376 915.8,377.3 920,380C924.2,382.7 927.3,387.3 929,392C930.7,396.7 930.5,404.2 930,408C929.5,411.8 927.8,413.1 926,415C924.2,416.9 922.7,418.4 919,419.5C915.3,420.6 908.5,421.2 904,421.5C899.5,421.8 896,421.7 892,421.5C888,421.3 882.8,422.2 880,420.5C877.2,418.8 876,415.4 875.5,411C875,406.6 874.9,399.2 877,394C879.1,388.8 883.5,383 888,380C892.5,377 898.7,376 904,376Z M820,386C824.3,384.3 833.7,382 840,382C846.3,382 853,383 858,386C863,389 867.8,395.3 870,400C872.2,404.7 871.7,409.8 871,414C870.3,418.2 868.5,422.2 866,425C863.5,427.8 859.8,429.4 856,431C852.2,432.6 846.8,433.7 843,434.5C839.2,435.3 835.7,435.2 833,436C830.3,436.8 829.5,439.5 827,439.5C824.5,439.5 820.7,438.6 818,436C815.3,433.4 812.5,429 811,424C809.5,419 808.5,411.3 809,406C809.5,400.7 812.2,395.3 814,392C815.8,388.7 815.7,387.7 820,386Z M786,386C782.5,388 776.8,395 774,400C771.2,405 769.8,411 769,416C768.2,421 768.5,426.1 769.5,430C770.5,433.9 771.8,436.8 775,439.5C778.2,442.2 784.9,446.2 788.7,446.3C792.5,446.4 795.1,442.4 798,440C800.9,437.6 804.1,435.2 806,432C807.9,428.8 808.8,425 809.5,421C810.2,417 811.1,412.2 810,408C808.9,403.8 805.5,399.3 803,396C800.5,392.7 797.8,389.7 795,388C792.2,386.3 789.5,384 786,386Z M742,382C738,383.7 731.3,390.3 728,396C724.7,401.7 722.9,410 722,416C721.1,422 721.3,427.7 722.5,432C723.7,436.3 725.8,438.9 729,442C732.2,445.1 737.4,450.3 741.6,450.5C745.8,450.7 750.4,445.4 754,443C757.6,440.6 760.8,438.8 763,436C765.2,433.2 766.7,430 767.5,426C768.3,422 769.2,417 768,412C766.8,407 762.7,400.3 760,396C757.3,391.7 755,388.3 752,386C749,383.7 746,380.3 742,382Z M696,396C691,396.7 684.2,403.3 680,408C675.8,412.7 672.7,416.7 671,424C669.3,431.3 669.2,446.3 670,452C670.8,457.7 671.3,455.7 676,458C680.7,460.3 692.7,466 698,466C703.3,466 704.5,462.3 708,458C711.5,453.7 717.2,446.3 719,440C720.8,433.7 720.5,426 719,420C717.5,414 713.8,408 710,404C706.2,400 701,395.3 696,396Z M664,415C666.7,415.5 669.2,419.2 670,424C670.8,428.8 669.3,438 669,444C668.7,450 670.5,455.5 668,460C665.5,464.5 657.3,469.7 654,471C650.7,472.3 649.5,471.2 648,468C646.5,464.8 645.2,457.3 645,452C644.8,446.7 645.5,441.2 647,436C648.5,430.8 651.2,424.5 654,421C656.8,417.5 661.3,414.5 664,415Z M642,409C644.7,409.2 649.3,414.8 650,420C650.7,425.2 646.8,432.7 646,440C645.2,447.3 644.8,457.7 645,464C645.2,470.3 648.2,475 647,478C645.8,481 640.8,482 638,482C635.2,482 631.8,481.7 630,478C628.2,474.3 627.3,467 627,460C626.7,453 626.8,442.8 628,436C629.2,429.2 631.7,423.5 634,419C636.3,414.5 639.3,408.8 642,409Z" fill="#f4aca5" stroke="#f4aca5" stroke-width="42" stroke-linejoin="round" filter="url(#b7)" opacity="0.85"/>
<path d="M637,480C635.8,483.8 639.5,494 642,500C644.5,506 649.3,512.9 652,516C654.7,519.1 656.3,518.8 658,518.5C659.7,518.2 662.2,517.8 662,514C661.8,510.2 659.2,502.2 657,496C654.8,489.8 652.3,479.7 649,477C645.7,474.3 638.2,476.2 637,480Z M648,473C651.2,469.3 663.8,460.8 668,463C672.2,465.2 671.3,477.5 673,486C674.7,494.5 678,508.7 678,514C678,519.3 675.2,517.7 673,518C670.8,518.3 667.8,519 665,516C662.2,513 658.7,505.2 656,500C653.3,494.8 650.3,489.5 649,485C647.7,480.5 644.8,476.7 648,473Z M669,458C670.2,454 673.5,452.7 677,453C680.5,453.3 685.5,458 690,460C694.5,462 700.8,461.7 704,465C707.2,468.3 707.5,474.3 709,480C710.5,485.7 714.3,493 713,499C711.7,505 704.8,511.8 701,516C697.2,520.2 692.8,523.3 690,524C687.2,524.7 686.3,524 684,520C681.7,516 678.3,507.2 676,500C673.7,492.8 671.2,484 670,477C668.8,470 667.8,462 669,458Z M867,438C868,435 869.8,433.8 873,432C876.2,430.2 881.2,428.7 886,427.5C890.8,426.3 897.3,425.4 902,425C906.7,424.6 910.2,424 914,425C917.8,426 922.2,428.5 924.5,431C926.8,433.5 928.8,435.5 928,440C927.2,444.5 924,453.3 920,458C916,462.7 909.3,466 904,468C898.7,470 893,470.7 888,470C883,469.3 877.5,467.3 874,464C870.5,460.7 868.2,454.3 867,450C865.8,445.7 866,441 867,438Z M797,449C798.3,444.2 801.8,443 806,441.5C810.2,440 817,441.1 822,440C827,438.9 830.7,435.8 836,435C841.3,434.2 849.2,433.7 854,435C858.8,436.3 863.2,438.5 865,443C866.8,447.5 867.5,456.2 865,462C862.5,467.8 855.8,474.3 850,478C844.2,481.7 836.7,483.3 830,484C823.3,484.7 815.3,484.3 810,482C804.7,479.7 800.2,475.5 798,470C795.8,464.5 795.7,453.8 797,449Z M748,458C750.5,453.7 759,445 764,443C769,441 773,443.8 778,446C783,448.2 790.8,451.7 794,456C797.2,460.3 798.3,466.3 797,472C795.7,477.7 789.5,485.8 786,490C782.5,494.2 779.3,496.3 776,497C772.7,497.7 770,496.5 766,494C762,491.5 754.8,486.2 752,482C749.2,477.8 749.7,473 749,469C748.3,465 745.5,462.3 748,458Z M706,464C707.8,459.8 714,450.3 718,448C722,445.7 725.3,448.3 730,450C734.7,451.7 742.8,453 746,458C749.2,463 749.3,473.7 749,480C748.7,486.3 747.2,491.5 744,496C740.8,500.5 734,505.7 730,507C726,508.3 723,506.8 720,504C717,501.2 714.2,495.2 712,490C709.8,484.8 708,477.3 707,473C706,468.7 704.2,468.2 706,464Z M904,376C909.3,376 915.8,377.3 920,380C924.2,382.7 927.3,387.3 929,392C930.7,396.7 930.5,404.2 930,408C929.5,411.8 927.8,413.1 926,415C924.2,416.9 922.7,418.4 919,419.5C915.3,420.6 908.5,421.2 904,421.5C899.5,421.8 896,421.7 892,421.5C888,421.3 882.8,422.2 880,420.5C877.2,418.8 876,415.4 875.5,411C875,406.6 874.9,399.2 877,394C879.1,388.8 883.5,383 888,380C892.5,377 898.7,376 904,376Z M820,386C824.3,384.3 833.7,382 840,382C846.3,382 853,383 858,386C863,389 867.8,395.3 870,400C872.2,404.7 871.7,409.8 871,414C870.3,418.2 868.5,422.2 866,425C863.5,427.8 859.8,429.4 856,431C852.2,432.6 846.8,433.7 843,434.5C839.2,435.3 835.7,435.2 833,436C830.3,436.8 829.5,439.5 827,439.5C824.5,439.5 820.7,438.6 818,436C815.3,433.4 812.5,429 811,424C809.5,419 808.5,411.3 809,406C809.5,400.7 812.2,395.3 814,392C815.8,388.7 815.7,387.7 820,386Z M786,386C782.5,388 776.8,395 774,400C771.2,405 769.8,411 769,416C768.2,421 768.5,426.1 769.5,430C770.5,433.9 771.8,436.8 775,439.5C778.2,442.2 784.9,446.2 788.7,446.3C792.5,446.4 795.1,442.4 798,440C800.9,437.6 804.1,435.2 806,432C807.9,428.8 808.8,425 809.5,421C810.2,417 811.1,412.2 810,408C808.9,403.8 805.5,399.3 803,396C800.5,392.7 797.8,389.7 795,388C792.2,386.3 789.5,384 786,386Z M742,382C738,383.7 731.3,390.3 728,396C724.7,401.7 722.9,410 722,416C721.1,422 721.3,427.7 722.5,432C723.7,436.3 725.8,438.9 729,442C732.2,445.1 737.4,450.3 741.6,450.5C745.8,450.7 750.4,445.4 754,443C757.6,440.6 760.8,438.8 763,436C765.2,433.2 766.7,430 767.5,426C768.3,422 769.2,417 768,412C766.8,407 762.7,400.3 760,396C757.3,391.7 755,388.3 752,386C749,383.7 746,380.3 742,382Z M696,396C691,396.7 684.2,403.3 680,408C675.8,412.7 672.7,416.7 671,424C669.3,431.3 669.2,446.3 670,452C670.8,457.7 671.3,455.7 676,458C680.7,460.3 692.7,466 698,466C703.3,466 704.5,462.3 708,458C711.5,453.7 717.2,446.3 719,440C720.8,433.7 720.5,426 719,420C717.5,414 713.8,408 710,404C706.2,400 701,395.3 696,396Z M664,415C666.7,415.5 669.2,419.2 670,424C670.8,428.8 669.3,438 669,444C668.7,450 670.5,455.5 668,460C665.5,464.5 657.3,469.7 654,471C650.7,472.3 649.5,471.2 648,468C646.5,464.8 645.2,457.3 645,452C644.8,446.7 645.5,441.2 647,436C648.5,430.8 651.2,424.5 654,421C656.8,417.5 661.3,414.5 664,415Z M642,409C644.7,409.2 649.3,414.8 650,420C650.7,425.2 646.8,432.7 646,440C645.2,447.3 644.8,457.7 645,464C645.2,470.3 648.2,475 647,478C645.8,481 640.8,482 638,482C635.2,482 631.8,481.7 630,478C628.2,474.3 627.3,467 627,460C626.7,453 626.8,442.8 628,436C629.2,429.2 631.7,423.5 634,419C636.3,414.5 639.3,408.8 642,409Z" fill="none" stroke="#f9d3ce" stroke-width="19" stroke-linejoin="round" filter="url(#b2)" opacity="0.62"/>
<path d="M637,480C635.8,483.8 639.5,494 642,500C644.5,506 649.3,512.9 652,516C654.7,519.1 656.3,518.8 658,518.5C659.7,518.2 662.2,517.8 662,514C661.8,510.2 659.2,502.2 657,496C654.8,489.8 652.3,479.7 649,477C645.7,474.3 638.2,476.2 637,480Z M648,473C651.2,469.3 663.8,460.8 668,463C672.2,465.2 671.3,477.5 673,486C674.7,494.5 678,508.7 678,514C678,519.3 675.2,517.7 673,518C670.8,518.3 667.8,519 665,516C662.2,513 658.7,505.2 656,500C653.3,494.8 650.3,489.5 649,485C647.7,480.5 644.8,476.7 648,473Z M669,458C670.2,454 673.5,452.7 677,453C680.5,453.3 685.5,458 690,460C694.5,462 700.8,461.7 704,465C707.2,468.3 707.5,474.3 709,480C710.5,485.7 714.3,493 713,499C711.7,505 704.8,511.8 701,516C697.2,520.2 692.8,523.3 690,524C687.2,524.7 686.3,524 684,520C681.7,516 678.3,507.2 676,500C673.7,492.8 671.2,484 670,477C668.8,470 667.8,462 669,458Z M867,438C868,435 869.8,433.8 873,432C876.2,430.2 881.2,428.7 886,427.5C890.8,426.3 897.3,425.4 902,425C906.7,424.6 910.2,424 914,425C917.8,426 922.2,428.5 924.5,431C926.8,433.5 928.8,435.5 928,440C927.2,444.5 924,453.3 920,458C916,462.7 909.3,466 904,468C898.7,470 893,470.7 888,470C883,469.3 877.5,467.3 874,464C870.5,460.7 868.2,454.3 867,450C865.8,445.7 866,441 867,438Z M797,449C798.3,444.2 801.8,443 806,441.5C810.2,440 817,441.1 822,440C827,438.9 830.7,435.8 836,435C841.3,434.2 849.2,433.7 854,435C858.8,436.3 863.2,438.5 865,443C866.8,447.5 867.5,456.2 865,462C862.5,467.8 855.8,474.3 850,478C844.2,481.7 836.7,483.3 830,484C823.3,484.7 815.3,484.3 810,482C804.7,479.7 800.2,475.5 798,470C795.8,464.5 795.7,453.8 797,449Z M748,458C750.5,453.7 759,445 764,443C769,441 773,443.8 778,446C783,448.2 790.8,451.7 794,456C797.2,460.3 798.3,466.3 797,472C795.7,477.7 789.5,485.8 786,490C782.5,494.2 779.3,496.3 776,497C772.7,497.7 770,496.5 766,494C762,491.5 754.8,486.2 752,482C749.2,477.8 749.7,473 749,469C748.3,465 745.5,462.3 748,458Z M706,464C707.8,459.8 714,450.3 718,448C722,445.7 725.3,448.3 730,450C734.7,451.7 742.8,453 746,458C749.2,463 749.3,473.7 749,480C748.7,486.3 747.2,491.5 744,496C740.8,500.5 734,505.7 730,507C726,508.3 723,506.8 720,504C717,501.2 714.2,495.2 712,490C709.8,484.8 708,477.3 707,473C706,468.7 704.2,468.2 706,464Z M904,376C909.3,376 915.8,377.3 920,380C924.2,382.7 927.3,387.3 929,392C930.7,396.7 930.5,404.2 930,408C929.5,411.8 927.8,413.1 926,415C924.2,416.9 922.7,418.4 919,419.5C915.3,420.6 908.5,421.2 904,421.5C899.5,421.8 896,421.7 892,421.5C888,421.3 882.8,422.2 880,420.5C877.2,418.8 876,415.4 875.5,411C875,406.6 874.9,399.2 877,394C879.1,388.8 883.5,383 888,380C892.5,377 898.7,376 904,376Z M820,386C824.3,384.3 833.7,382 840,382C846.3,382 853,383 858,386C863,389 867.8,395.3 870,400C872.2,404.7 871.7,409.8 871,414C870.3,418.2 868.5,422.2 866,425C863.5,427.8 859.8,429.4 856,431C852.2,432.6 846.8,433.7 843,434.5C839.2,435.3 835.7,435.2 833,436C830.3,436.8 829.5,439.5 827,439.5C824.5,439.5 820.7,438.6 818,436C815.3,433.4 812.5,429 811,424C809.5,419 808.5,411.3 809,406C809.5,400.7 812.2,395.3 814,392C815.8,388.7 815.7,387.7 820,386Z M786,386C782.5,388 776.8,395 774,400C771.2,405 769.8,411 769,416C768.2,421 768.5,426.1 769.5,430C770.5,433.9 771.8,436.8 775,439.5C778.2,442.2 784.9,446.2 788.7,446.3C792.5,446.4 795.1,442.4 798,440C800.9,437.6 804.1,435.2 806,432C807.9,428.8 808.8,425 809.5,421C810.2,417 811.1,412.2 810,408C808.9,403.8 805.5,399.3 803,396C800.5,392.7 797.8,389.7 795,388C792.2,386.3 789.5,384 786,386Z M742,382C738,383.7 731.3,390.3 728,396C724.7,401.7 722.9,410 722,416C721.1,422 721.3,427.7 722.5,432C723.7,436.3 725.8,438.9 729,442C732.2,445.1 737.4,450.3 741.6,450.5C745.8,450.7 750.4,445.4 754,443C757.6,440.6 760.8,438.8 763,436C765.2,433.2 766.7,430 767.5,426C768.3,422 769.2,417 768,412C766.8,407 762.7,400.3 760,396C757.3,391.7 755,388.3 752,386C749,383.7 746,380.3 742,382Z M696,396C691,396.7 684.2,403.3 680,408C675.8,412.7 672.7,416.7 671,424C669.3,431.3 669.2,446.3 670,452C670.8,457.7 671.3,455.7 676,458C680.7,460.3 692.7,466 698,466C703.3,466 704.5,462.3 708,458C711.5,453.7 717.2,446.3 719,440C720.8,433.7 720.5,426 719,420C717.5,414 713.8,408 710,404C706.2,400 701,395.3 696,396Z M664,415C666.7,415.5 669.2,419.2 670,424C670.8,428.8 669.3,438 669,444C668.7,450 670.5,455.5 668,460C665.5,464.5 657.3,469.7 654,471C650.7,472.3 649.5,471.2 648,468C646.5,464.8 645.2,457.3 645,452C644.8,446.7 645.5,441.2 647,436C648.5,430.8 651.2,424.5 654,421C656.8,417.5 661.3,414.5 664,415Z M642,409C644.7,409.2 649.3,414.8 650,420C650.7,425.2 646.8,432.7 646,440C645.2,447.3 644.8,457.7 645,464C645.2,470.3 648.2,475 647,478C645.8,481 640.8,482 638,482C635.2,482 631.8,481.7 630,478C628.2,474.3 627.3,467 627,460C626.7,453 626.8,442.8 628,436C629.2,429.2 631.7,423.5 634,419C636.3,414.5 639.3,408.8 642,409Z" fill="#eb9d96" stroke="#eb9d96" stroke-width="11" stroke-linejoin="round" filter="url(#b15)"/>
<path d="M920,396 L932,401.5 C940,406.5 950,406.5 958,400 C963,395.5 966,391 968,386.4 L968,445.6 C962,449 955,449.5 950,447 C946,445 940,443.5 930,443.5 L920,443 Z" fill="#2a2627"/>
<path d="M722,448 L746,454 L768,443 L792,449 L812,438 L840,434 L870,427 L900,421 L928,420" fill="none" stroke="#2a2627" stroke-width="14" stroke-linejoin="round" stroke-linecap="round"/>
<path d="M637,480C635.8,483.8 639.5,494 642,500C644.5,506 649.3,512.9 652,516C654.7,519.1 656.3,518.8 658,518.5C659.7,518.2 662.2,517.8 662,514C661.8,510.2 659.2,502.2 657,496C654.8,489.8 652.3,479.7 649,477C645.7,474.3 638.2,476.2 637,480Z M648,473C651.2,469.3 663.8,460.8 668,463C672.2,465.2 671.3,477.5 673,486C674.7,494.5 678,508.7 678,514C678,519.3 675.2,517.7 673,518C670.8,518.3 667.8,519 665,516C662.2,513 658.7,505.2 656,500C653.3,494.8 650.3,489.5 649,485C647.7,480.5 644.8,476.7 648,473Z M669,458C670.2,454 673.5,452.7 677,453C680.5,453.3 685.5,458 690,460C694.5,462 700.8,461.7 704,465C707.2,468.3 707.5,474.3 709,480C710.5,485.7 714.3,493 713,499C711.7,505 704.8,511.8 701,516C697.2,520.2 692.8,523.3 690,524C687.2,524.7 686.3,524 684,520C681.7,516 678.3,507.2 676,500C673.7,492.8 671.2,484 670,477C668.8,470 667.8,462 669,458Z M867,438C868,435 869.8,433.8 873,432C876.2,430.2 881.2,428.7 886,427.5C890.8,426.3 897.3,425.4 902,425C906.7,424.6 910.2,424 914,425C917.8,426 922.2,428.5 924.5,431C926.8,433.5 928.8,435.5 928,440C927.2,444.5 924,453.3 920,458C916,462.7 909.3,466 904,468C898.7,470 893,470.7 888,470C883,469.3 877.5,467.3 874,464C870.5,460.7 868.2,454.3 867,450C865.8,445.7 866,441 867,438Z M797,449C798.3,444.2 801.8,443 806,441.5C810.2,440 817,441.1 822,440C827,438.9 830.7,435.8 836,435C841.3,434.2 849.2,433.7 854,435C858.8,436.3 863.2,438.5 865,443C866.8,447.5 867.5,456.2 865,462C862.5,467.8 855.8,474.3 850,478C844.2,481.7 836.7,483.3 830,484C823.3,484.7 815.3,484.3 810,482C804.7,479.7 800.2,475.5 798,470C795.8,464.5 795.7,453.8 797,449Z M748,458C750.5,453.7 759,445 764,443C769,441 773,443.8 778,446C783,448.2 790.8,451.7 794,456C797.2,460.3 798.3,466.3 797,472C795.7,477.7 789.5,485.8 786,490C782.5,494.2 779.3,496.3 776,497C772.7,497.7 770,496.5 766,494C762,491.5 754.8,486.2 752,482C749.2,477.8 749.7,473 749,469C748.3,465 745.5,462.3 748,458Z M706,464C707.8,459.8 714,450.3 718,448C722,445.7 725.3,448.3 730,450C734.7,451.7 742.8,453 746,458C749.2,463 749.3,473.7 749,480C748.7,486.3 747.2,491.5 744,496C740.8,500.5 734,505.7 730,507C726,508.3 723,506.8 720,504C717,501.2 714.2,495.2 712,490C709.8,484.8 708,477.3 707,473C706,468.7 704.2,468.2 706,464Z M904,376C909.3,376 915.8,377.3 920,380C924.2,382.7 927.3,387.3 929,392C930.7,396.7 930.5,404.2 930,408C929.5,411.8 927.8,413.1 926,415C924.2,416.9 922.7,418.4 919,419.5C915.3,420.6 908.5,421.2 904,421.5C899.5,421.8 896,421.7 892,421.5C888,421.3 882.8,422.2 880,420.5C877.2,418.8 876,415.4 875.5,411C875,406.6 874.9,399.2 877,394C879.1,388.8 883.5,383 888,380C892.5,377 898.7,376 904,376Z M820,386C824.3,384.3 833.7,382 840,382C846.3,382 853,383 858,386C863,389 867.8,395.3 870,400C872.2,404.7 871.7,409.8 871,414C870.3,418.2 868.5,422.2 866,425C863.5,427.8 859.8,429.4 856,431C852.2,432.6 846.8,433.7 843,434.5C839.2,435.3 835.7,435.2 833,436C830.3,436.8 829.5,439.5 827,439.5C824.5,439.5 820.7,438.6 818,436C815.3,433.4 812.5,429 811,424C809.5,419 808.5,411.3 809,406C809.5,400.7 812.2,395.3 814,392C815.8,388.7 815.7,387.7 820,386Z M786,386C782.5,388 776.8,395 774,400C771.2,405 769.8,411 769,416C768.2,421 768.5,426.1 769.5,430C770.5,433.9 771.8,436.8 775,439.5C778.2,442.2 784.9,446.2 788.7,446.3C792.5,446.4 795.1,442.4 798,440C800.9,437.6 804.1,435.2 806,432C807.9,428.8 808.8,425 809.5,421C810.2,417 811.1,412.2 810,408C808.9,403.8 805.5,399.3 803,396C800.5,392.7 797.8,389.7 795,388C792.2,386.3 789.5,384 786,386Z M742,382C738,383.7 731.3,390.3 728,396C724.7,401.7 722.9,410 722,416C721.1,422 721.3,427.7 722.5,432C723.7,436.3 725.8,438.9 729,442C732.2,445.1 737.4,450.3 741.6,450.5C745.8,450.7 750.4,445.4 754,443C757.6,440.6 760.8,438.8 763,436C765.2,433.2 766.7,430 767.5,426C768.3,422 769.2,417 768,412C766.8,407 762.7,400.3 760,396C757.3,391.7 755,388.3 752,386C749,383.7 746,380.3 742,382Z M696,396C691,396.7 684.2,403.3 680,408C675.8,412.7 672.7,416.7 671,424C669.3,431.3 669.2,446.3 670,452C670.8,457.7 671.3,455.7 676,458C680.7,460.3 692.7,466 698,466C703.3,466 704.5,462.3 708,458C711.5,453.7 717.2,446.3 719,440C720.8,433.7 720.5,426 719,420C717.5,414 713.8,408 710,404C706.2,400 701,395.3 696,396Z M664,415C666.7,415.5 669.2,419.2 670,424C670.8,428.8 669.3,438 669,444C668.7,450 670.5,455.5 668,460C665.5,464.5 657.3,469.7 654,471C650.7,472.3 649.5,471.2 648,468C646.5,464.8 645.2,457.3 645,452C644.8,446.7 645.5,441.2 647,436C648.5,430.8 651.2,424.5 654,421C656.8,417.5 661.3,414.5 664,415Z M642,409C644.7,409.2 649.3,414.8 650,420C650.7,425.2 646.8,432.7 646,440C645.2,447.3 644.8,457.7 645,464C645.2,470.3 648.2,475 647,478C645.8,481 640.8,482 638,482C635.2,482 631.8,481.7 630,478C628.2,474.3 627.3,467 627,460C626.7,453 626.8,442.8 628,436C629.2,429.2 631.7,423.5 634,419C636.3,414.5 639.3,408.8 642,409Z" fill="none" stroke="#fff" stroke-width="3.2" stroke-linejoin="round" filter="url(#b1)" opacity="0.3" mask="url(#mkC)"/>
</g>
<path d="M637,480C635.8,483.8 639.5,494 642,500C644.5,506 649.3,512.9 652,516C654.7,519.1 656.3,518.8 658,518.5C659.7,518.2 662.2,517.8 662,514C661.8,510.2 659.2,502.2 657,496C654.8,489.8 652.3,479.7 649,477C645.7,474.3 638.2,476.2 637,480Z" fill="#fff" filter="url(#ts)"/>
<path d="M637,480C635.8,483.8 639.5,494 642,500C644.5,506 649.3,512.9 652,516C654.7,519.1 656.3,518.8 658,518.5C659.7,518.2 662.2,517.8 662,514C661.8,510.2 659.2,502.2 657,496C654.8,489.8 652.3,479.7 649,477C645.7,474.3 638.2,476.2 637,480Z" fill="none" stroke="#2e2b2b" stroke-width="1.7" stroke-linejoin="round"/>
<path d="M648,473C651.2,469.3 663.8,460.8 668,463C672.2,465.2 671.3,477.5 673,486C674.7,494.5 678,508.7 678,514C678,519.3 675.2,517.7 673,518C670.8,518.3 667.8,519 665,516C662.2,513 658.7,505.2 656,500C653.3,494.8 650.3,489.5 649,485C647.7,480.5 644.8,476.7 648,473Z" fill="#fff" filter="url(#ts)"/>
<path d="M648,473C651.2,469.3 663.8,460.8 668,463C672.2,465.2 671.3,477.5 673,486C674.7,494.5 678,508.7 678,514C678,519.3 675.2,517.7 673,518C670.8,518.3 667.8,519 665,516C662.2,513 658.7,505.2 656,500C653.3,494.8 650.3,489.5 649,485C647.7,480.5 644.8,476.7 648,473Z" fill="none" stroke="#2e2b2b" stroke-width="1.7" stroke-linejoin="round"/>
<path d="M669,458C670.2,454 673.5,452.7 677,453C680.5,453.3 685.5,458 690,460C694.5,462 700.8,461.7 704,465C707.2,468.3 707.5,474.3 709,480C710.5,485.7 714.3,493 713,499C711.7,505 704.8,511.8 701,516C697.2,520.2 692.8,523.3 690,524C687.2,524.7 686.3,524 684,520C681.7,516 678.3,507.2 676,500C673.7,492.8 671.2,484 670,477C668.8,470 667.8,462 669,458Z" fill="#fff" filter="url(#ts)"/>
<path d="M669,458C670.2,454 673.5,452.7 677,453C680.5,453.3 685.5,458 690,460C694.5,462 700.8,461.7 704,465C707.2,468.3 707.5,474.3 709,480C710.5,485.7 714.3,493 713,499C711.7,505 704.8,511.8 701,516C697.2,520.2 692.8,523.3 690,524C687.2,524.7 686.3,524 684,520C681.7,516 678.3,507.2 676,500C673.7,492.8 671.2,484 670,477C668.8,470 667.8,462 669,458Z" fill="none" stroke="#2e2b2b" stroke-width="1.7" stroke-linejoin="round"/>
<path d="M867,438C868,435 869.8,433.8 873,432C876.2,430.2 881.2,428.7 886,427.5C890.8,426.3 897.3,425.4 902,425C906.7,424.6 910.2,424 914,425C917.8,426 922.2,428.5 924.5,431C926.8,433.5 928.8,435.5 928,440C927.2,444.5 924,453.3 920,458C916,462.7 909.3,466 904,468C898.7,470 893,470.7 888,470C883,469.3 877.5,467.3 874,464C870.5,460.7 868.2,454.3 867,450C865.8,445.7 866,441 867,438Z" fill="#fff" filter="url(#ts)"/>
<path d="M867,438C868,435 869.8,433.8 873,432C876.2,430.2 881.2,428.7 886,427.5C890.8,426.3 897.3,425.4 902,425C906.7,424.6 910.2,424 914,425C917.8,426 922.2,428.5 924.5,431C926.8,433.5 928.8,435.5 928,440C927.2,444.5 924,453.3 920,458C916,462.7 909.3,466 904,468C898.7,470 893,470.7 888,470C883,469.3 877.5,467.3 874,464C870.5,460.7 868.2,454.3 867,450C865.8,445.7 866,441 867,438Z" fill="none" stroke="#2e2b2b" stroke-width="1.7" stroke-linejoin="round"/>
<path d="M797,449C798.3,444.2 801.8,443 806,441.5C810.2,440 817,441.1 822,440C827,438.9 830.7,435.8 836,435C841.3,434.2 849.2,433.7 854,435C858.8,436.3 863.2,438.5 865,443C866.8,447.5 867.5,456.2 865,462C862.5,467.8 855.8,474.3 850,478C844.2,481.7 836.7,483.3 830,484C823.3,484.7 815.3,484.3 810,482C804.7,479.7 800.2,475.5 798,470C795.8,464.5 795.7,453.8 797,449Z" fill="#fff" filter="url(#ts)"/>
<path d="M797,449C798.3,444.2 801.8,443 806,441.5C810.2,440 817,441.1 822,440C827,438.9 830.7,435.8 836,435C841.3,434.2 849.2,433.7 854,435C858.8,436.3 863.2,438.5 865,443C866.8,447.5 867.5,456.2 865,462C862.5,467.8 855.8,474.3 850,478C844.2,481.7 836.7,483.3 830,484C823.3,484.7 815.3,484.3 810,482C804.7,479.7 800.2,475.5 798,470C795.8,464.5 795.7,453.8 797,449Z" fill="none" stroke="#2e2b2b" stroke-width="1.7" stroke-linejoin="round"/>
<path d="M748,458C750.5,453.7 759,445 764,443C769,441 773,443.8 778,446C783,448.2 790.8,451.7 794,456C797.2,460.3 798.3,466.3 797,472C795.7,477.7 789.5,485.8 786,490C782.5,494.2 779.3,496.3 776,497C772.7,497.7 770,496.5 766,494C762,491.5 754.8,486.2 752,482C749.2,477.8 749.7,473 749,469C748.3,465 745.5,462.3 748,458Z" fill="#fff" filter="url(#ts)"/>
<path d="M748,458C750.5,453.7 759,445 764,443C769,441 773,443.8 778,446C783,448.2 790.8,451.7 794,456C797.2,460.3 798.3,466.3 797,472C795.7,477.7 789.5,485.8 786,490C782.5,494.2 779.3,496.3 776,497C772.7,497.7 770,496.5 766,494C762,491.5 754.8,486.2 752,482C749.2,477.8 749.7,473 749,469C748.3,465 745.5,462.3 748,458Z" fill="none" stroke="#2e2b2b" stroke-width="1.7" stroke-linejoin="round"/>
<path d="M706,464C707.8,459.8 714,450.3 718,448C722,445.7 725.3,448.3 730,450C734.7,451.7 742.8,453 746,458C749.2,463 749.3,473.7 749,480C748.7,486.3 747.2,491.5 744,496C740.8,500.5 734,505.7 730,507C726,508.3 723,506.8 720,504C717,501.2 714.2,495.2 712,490C709.8,484.8 708,477.3 707,473C706,468.7 704.2,468.2 706,464Z" fill="#fff" filter="url(#ts)"/>
<path d="M706,464C707.8,459.8 714,450.3 718,448C722,445.7 725.3,448.3 730,450C734.7,451.7 742.8,453 746,458C749.2,463 749.3,473.7 749,480C748.7,486.3 747.2,491.5 744,496C740.8,500.5 734,505.7 730,507C726,508.3 723,506.8 720,504C717,501.2 714.2,495.2 712,490C709.8,484.8 708,477.3 707,473C706,468.7 704.2,468.2 706,464Z" fill="none" stroke="#2e2b2b" stroke-width="1.7" stroke-linejoin="round"/>
<path d="M904,376C909.3,376 915.8,377.3 920,380C924.2,382.7 927.3,387.3 929,392C930.7,396.7 930.5,404.2 930,408C929.5,411.8 927.8,413.1 926,415C924.2,416.9 922.7,418.4 919,419.5C915.3,420.6 908.5,421.2 904,421.5C899.5,421.8 896,421.7 892,421.5C888,421.3 882.8,422.2 880,420.5C877.2,418.8 876,415.4 875.5,411C875,406.6 874.9,399.2 877,394C879.1,388.8 883.5,383 888,380C892.5,377 898.7,376 904,376Z" fill="#fff" filter="url(#ts)"/>
<path d="M904,376C909.3,376 915.8,377.3 920,380C924.2,382.7 927.3,387.3 929,392C930.7,396.7 930.5,404.2 930,408C929.5,411.8 927.8,413.1 926,415C924.2,416.9 922.7,418.4 919,419.5C915.3,420.6 908.5,421.2 904,421.5C899.5,421.8 896,421.7 892,421.5C888,421.3 882.8,422.2 880,420.5C877.2,418.8 876,415.4 875.5,411C875,406.6 874.9,399.2 877,394C879.1,388.8 883.5,383 888,380C892.5,377 898.7,376 904,376Z" fill="none" stroke="#2e2b2b" stroke-width="1.7" stroke-linejoin="round"/>
<path d="M820,386C824.3,384.3 833.7,382 840,382C846.3,382 853,383 858,386C863,389 867.8,395.3 870,400C872.2,404.7 871.7,409.8 871,414C870.3,418.2 868.5,422.2 866,425C863.5,427.8 859.8,429.4 856,431C852.2,432.6 846.8,433.7 843,434.5C839.2,435.3 835.7,435.2 833,436C830.3,436.8 829.5,439.5 827,439.5C824.5,439.5 820.7,438.6 818,436C815.3,433.4 812.5,429 811,424C809.5,419 808.5,411.3 809,406C809.5,400.7 812.2,395.3 814,392C815.8,388.7 815.7,387.7 820,386Z" fill="#fff" filter="url(#ts)"/>
<path d="M820,386C824.3,384.3 833.7,382 840,382C846.3,382 853,383 858,386C863,389 867.8,395.3 870,400C872.2,404.7 871.7,409.8 871,414C870.3,418.2 868.5,422.2 866,425C863.5,427.8 859.8,429.4 856,431C852.2,432.6 846.8,433.7 843,434.5C839.2,435.3 835.7,435.2 833,436C830.3,436.8 829.5,439.5 827,439.5C824.5,439.5 820.7,438.6 818,436C815.3,433.4 812.5,429 811,424C809.5,419 808.5,411.3 809,406C809.5,400.7 812.2,395.3 814,392C815.8,388.7 815.7,387.7 820,386Z" fill="none" stroke="#2e2b2b" stroke-width="1.7" stroke-linejoin="round"/>
<path d="M786,386C782.5,388 776.8,395 774,400C771.2,405 769.8,411 769,416C768.2,421 768.5,426.1 769.5,430C770.5,433.9 771.8,436.8 775,439.5C778.2,442.2 784.9,446.2 788.7,446.3C792.5,446.4 795.1,442.4 798,440C800.9,437.6 804.1,435.2 806,432C807.9,428.8 808.8,425 809.5,421C810.2,417 811.1,412.2 810,408C808.9,403.8 805.5,399.3 803,396C800.5,392.7 797.8,389.7 795,388C792.2,386.3 789.5,384 786,386Z" fill="#fff" filter="url(#ts)"/>
<path d="M786,386C782.5,388 776.8,395 774,400C771.2,405 769.8,411 769,416C768.2,421 768.5,426.1 769.5,430C770.5,433.9 771.8,436.8 775,439.5C778.2,442.2 784.9,446.2 788.7,446.3C792.5,446.4 795.1,442.4 798,440C800.9,437.6 804.1,435.2 806,432C807.9,428.8 808.8,425 809.5,421C810.2,417 811.1,412.2 810,408C808.9,403.8 805.5,399.3 803,396C800.5,392.7 797.8,389.7 795,388C792.2,386.3 789.5,384 786,386Z" fill="none" stroke="#2e2b2b" stroke-width="1.7" stroke-linejoin="round"/>
<path d="M742,382C738,383.7 731.3,390.3 728,396C724.7,401.7 722.9,410 722,416C721.1,422 721.3,427.7 722.5,432C723.7,436.3 725.8,438.9 729,442C732.2,445.1 737.4,450.3 741.6,450.5C745.8,450.7 750.4,445.4 754,443C757.6,440.6 760.8,438.8 763,436C765.2,433.2 766.7,430 767.5,426C768.3,422 769.2,417 768,412C766.8,407 762.7,400.3 760,396C757.3,391.7 755,388.3 752,386C749,383.7 746,380.3 742,382Z" fill="#fff" filter="url(#ts)"/>
<path d="M742,382C738,383.7 731.3,390.3 728,396C724.7,401.7 722.9,410 722,416C721.1,422 721.3,427.7 722.5,432C723.7,436.3 725.8,438.9 729,442C732.2,445.1 737.4,450.3 741.6,450.5C745.8,450.7 750.4,445.4 754,443C757.6,440.6 760.8,438.8 763,436C765.2,433.2 766.7,430 767.5,426C768.3,422 769.2,417 768,412C766.8,407 762.7,400.3 760,396C757.3,391.7 755,388.3 752,386C749,383.7 746,380.3 742,382Z" fill="none" stroke="#2e2b2b" stroke-width="1.7" stroke-linejoin="round"/>
<path d="M696,396C691,396.7 684.2,403.3 680,408C675.8,412.7 672.7,416.7 671,424C669.3,431.3 669.2,446.3 670,452C670.8,457.7 671.3,455.7 676,458C680.7,460.3 692.7,466 698,466C703.3,466 704.5,462.3 708,458C711.5,453.7 717.2,446.3 719,440C720.8,433.7 720.5,426 719,420C717.5,414 713.8,408 710,404C706.2,400 701,395.3 696,396Z" fill="#fff" filter="url(#ts)"/>
<path d="M696,396C691,396.7 684.2,403.3 680,408C675.8,412.7 672.7,416.7 671,424C669.3,431.3 669.2,446.3 670,452C670.8,457.7 671.3,455.7 676,458C680.7,460.3 692.7,466 698,466C703.3,466 704.5,462.3 708,458C711.5,453.7 717.2,446.3 719,440C720.8,433.7 720.5,426 719,420C717.5,414 713.8,408 710,404C706.2,400 701,395.3 696,396Z" fill="none" stroke="#2e2b2b" stroke-width="1.7" stroke-linejoin="round"/>
<path d="M664,415C666.7,415.5 669.2,419.2 670,424C670.8,428.8 669.3,438 669,444C668.7,450 670.5,455.5 668,460C665.5,464.5 657.3,469.7 654,471C650.7,472.3 649.5,471.2 648,468C646.5,464.8 645.2,457.3 645,452C644.8,446.7 645.5,441.2 647,436C648.5,430.8 651.2,424.5 654,421C656.8,417.5 661.3,414.5 664,415Z" fill="#fff" filter="url(#ts)"/>
<path d="M664,415C666.7,415.5 669.2,419.2 670,424C670.8,428.8 669.3,438 669,444C668.7,450 670.5,455.5 668,460C665.5,464.5 657.3,469.7 654,471C650.7,472.3 649.5,471.2 648,468C646.5,464.8 645.2,457.3 645,452C644.8,446.7 645.5,441.2 647,436C648.5,430.8 651.2,424.5 654,421C656.8,417.5 661.3,414.5 664,415Z" fill="none" stroke="#2e2b2b" stroke-width="1.7" stroke-linejoin="round"/>
<path d="M642,409C644.7,409.2 649.3,414.8 650,420C650.7,425.2 646.8,432.7 646,440C645.2,447.3 644.8,457.7 645,464C645.2,470.3 648.2,475 647,478C645.8,481 640.8,482 638,482C635.2,482 631.8,481.7 630,478C628.2,474.3 627.3,467 627,460C626.7,453 626.8,442.8 628,436C629.2,429.2 631.7,423.5 634,419C636.3,414.5 639.3,408.8 642,409Z" fill="#fff" filter="url(#ts)"/>
<path d="M642,409C644.7,409.2 649.3,414.8 650,420C650.7,425.2 646.8,432.7 646,440C645.2,447.3 644.8,457.7 645,464C645.2,470.3 648.2,475 647,478C645.8,481 640.8,482 638,482C635.2,482 631.8,481.7 630,478C628.2,474.3 627.3,467 627,460C626.7,453 626.8,442.8 628,436C629.2,429.2 631.7,423.5 634,419C636.3,414.5 639.3,408.8 642,409Z" fill="none" stroke="#2e2b2b" stroke-width="1.7" stroke-linejoin="round"/>
<path d="M668,453.5 C676,457.5 686,460 694,459 C704,457 712,449 719.5,435 L728,433 V476 H668 Z" fill="#ffd41c" clip-path="url(#cyU3)"/><path d="M696,396C691,396.7 684.2,403.3 680,408C675.8,412.7 672.7,416.7 671,424C669.3,431.3 669.2,446.3 670,452C670.8,457.7 671.3,455.7 676,458C680.7,460.3 692.7,466 698,466C703.3,466 704.5,462.3 708,458C711.5,453.7 717.2,446.3 719,440C720.8,433.7 720.5,426 719,420C717.5,414 713.8,408 710,404C706.2,400 701,395.3 696,396Z" fill="none" stroke="#2e2b2b" stroke-width="1.5" stroke-linejoin="round"/><path d="M664,415C666.7,415.5 669.2,419.2 670,424C670.8,428.8 669.3,438 669,444C668.7,450 670.5,455.5 668,460C665.5,464.5 657.3,469.7 654,471C650.7,472.3 649.5,471.2 648,468C646.5,464.8 645.2,457.3 645,452C644.8,446.7 645.5,441.2 647,436C648.5,430.8 651.2,424.5 654,421C656.8,417.5 661.3,414.5 664,415Z" fill="#fff" filter="url(#ts)"/><path d="M664,415C666.7,415.5 669.2,419.2 670,424C670.8,428.8 669.3,438 669,444C668.7,450 670.5,455.5 668,460C665.5,464.5 657.3,469.7 654,471C650.7,472.3 649.5,471.2 648,468C646.5,464.8 645.2,457.3 645,452C644.8,446.7 645.5,441.2 647,436C648.5,430.8 651.2,424.5 654,421C656.8,417.5 661.3,414.5 664,415Z" fill="none" stroke="#2e2b2b" stroke-width="1.5"/><path d="M640,457.5 C646,461.5 654,463 660,461 C665,459 668,454.5 669.5,448 L676,446 V480 H640 Z" fill="#ffd41c" clip-path="url(#cyU2)"/><path d="M664,415C666.7,415.5 669.2,419.2 670,424C670.8,428.8 669.3,438 669,444C668.7,450 670.5,455.5 668,460C665.5,464.5 657.3,469.7 654,471C650.7,472.3 649.5,471.2 648,468C646.5,464.8 645.2,457.3 645,452C644.8,446.7 645.5,441.2 647,436C648.5,430.8 651.2,424.5 654,421C656.8,417.5 661.3,414.5 664,415Z" fill="none" stroke="#2e2b2b" stroke-width="1.5" stroke-linejoin="round"/><path d="M642,409C644.7,409.2 649.3,414.8 650,420C650.7,425.2 646.8,432.7 646,440C645.2,447.3 644.8,457.7 645,464C645.2,470.3 648.2,475 647,478C645.8,481 640.8,482 638,482C635.2,482 631.8,481.7 630,478C628.2,474.3 627.3,467 627,460C626.7,453 626.8,442.8 628,436C629.2,429.2 631.7,423.5 634,419C636.3,414.5 639.3,408.8 642,409Z" fill="#fff" filter="url(#ts)"/><path d="M642,409C644.7,409.2 649.3,414.8 650,420C650.7,425.2 646.8,432.7 646,440C645.2,447.3 644.8,457.7 645,464C645.2,470.3 648.2,475 647,478C645.8,481 640.8,482 638,482C635.2,482 631.8,481.7 630,478C628.2,474.3 627.3,467 627,460C626.7,453 626.8,442.8 628,436C629.2,429.2 631.7,423.5 634,419C636.3,414.5 639.3,408.8 642,409Z" fill="none" stroke="#2e2b2b" stroke-width="1.5"/><path d="M620,465 L636,465.5 C641,465 644,462 645.5,456 L651,448 V490 H620 Z" fill="#ffd41c" clip-path="url(#cyU1)"/><path d="M642,409C644.7,409.2 649.3,414.8 650,420C650.7,425.2 646.8,432.7 646,440C645.2,447.3 644.8,457.7 645,464C645.2,470.3 648.2,475 647,478C645.8,481 640.8,482 638,482C635.2,482 631.8,481.7 630,478C628.2,474.3 627.3,467 627,460C626.7,453 626.8,442.8 628,436C629.2,429.2 631.7,423.5 634,419C636.3,414.5 639.3,408.8 642,409Z" fill="none" stroke="#2e2b2b" stroke-width="1.5" stroke-linejoin="round"/><path d="M742,419.8 L788,416 L840,410.2 L904,400.5" fill="none" stroke="#3a3a3a" stroke-width="2.8" stroke-linecap="round" stroke-linejoin="round"/><path d="M742,419.8 L788,416 L840,410.2 L904,400.5" fill="none" stroke="#a9acae" stroke-width="1.4" stroke-linecap="round" stroke-linejoin="round"/><path d="M726,466.8 L772,462.6 L830,457 L894,447.5" fill="none" stroke="#3a3a3a" stroke-width="2.8" stroke-linecap="round" stroke-linejoin="round"/><path d="M726,466.8 L772,462.6 L830,457 L894,447.5" fill="none" stroke="#a9acae" stroke-width="1.4" stroke-linecap="round" stroke-linejoin="round"/><path d="M746,398.5 L747.5,411" stroke="#3a3a3a" stroke-width="3.4" stroke-linecap="round"/><circle cx="746" cy="398.5" r="4" fill="#d4d6d7" stroke="#3a3a3a" stroke-width="1.1"/><path d="M746,398.5 L747.5,411" stroke="#d4d6d7" stroke-width="1.5" stroke-linecap="round"/><path d="M790.5,394 L792,407" stroke="#3a3a3a" stroke-width="3.4" stroke-linecap="round"/><circle cx="790.5" cy="394" r="4" fill="#d4d6d7" stroke="#3a3a3a" stroke-width="1.1"/><path d="M790.5,394 L792,407" stroke="#d4d6d7" stroke-width="1.5" stroke-linecap="round"/><path d="M844,389 L845.5,401" stroke="#3a3a3a" stroke-width="3.4" stroke-linecap="round"/><circle cx="844" cy="389" r="4" fill="#d4d6d7" stroke="#3a3a3a" stroke-width="1.1"/><path d="M844,389 L845.5,401" stroke="#d4d6d7" stroke-width="1.5" stroke-linecap="round"/><path d="M732,488.5 L733,479" stroke="#3a3a3a" stroke-width="3.4" stroke-linecap="round"/><circle cx="732" cy="488.5" r="4" fill="#d4d6d7" stroke="#3a3a3a" stroke-width="1.1"/><path d="M732,488.5 L733,479" stroke="#d4d6d7" stroke-width="1.5" stroke-linecap="round"/><path d="M778,484.5 L779,475" stroke="#3a3a3a" stroke-width="3.4" stroke-linecap="round"/><circle cx="778" cy="484.5" r="4" fill="#d4d6d7" stroke="#3a3a3a" stroke-width="1.1"/><path d="M778,484.5 L779,475" stroke="#d4d6d7" stroke-width="1.5" stroke-linecap="round"/><path d="M837,480 L838,471" stroke="#3a3a3a" stroke-width="3.4" stroke-linecap="round"/><circle cx="837" cy="480" r="4" fill="#d4d6d7" stroke="#3a3a3a" stroke-width="1.1"/><path d="M837,480 L838,471" stroke="#d4d6d7" stroke-width="1.5" stroke-linecap="round"/><g transform="rotate(-2 742.5 421)"><rect x="727" y="410" width="31" height="22" rx="3.5" fill="#8b8e90" stroke="#3a3a3a" stroke-width="1.2"/><rect x="731.5" y="414" width="22" height="14" rx="2" fill="url(#brk)" stroke="#3a3a3a" stroke-width="1"/><rect x="729.2" y="412" width="26.6" height="18" rx="2.6" fill="none" stroke="#c9cbcc" stroke-width="0.8"/></g><g transform="rotate(-3 787.5 417)"><rect x="773" y="406" width="29" height="22" rx="3.5" fill="#8b8e90" stroke="#3a3a3a" stroke-width="1.2"/><rect x="777.5" y="410" width="20" height="14" rx="2" fill="url(#brk)" stroke="#3a3a3a" stroke-width="1"/><rect x="775.2" y="408" width="24.6" height="18" rx="2.6" fill="none" stroke="#c9cbcc" stroke-width="0.8"/></g><g transform="rotate(-4 840.5 411.5)"><rect x="825" y="400" width="31" height="23" rx="3.5" fill="#8b8e90" stroke="#3a3a3a" stroke-width="1.2"/><rect x="829.5" y="404" width="22" height="15" rx="2" fill="url(#brk)" stroke="#3a3a3a" stroke-width="1"/><rect x="827.2" y="402" width="26.6" height="19" rx="2.6" fill="none" stroke="#c9cbcc" stroke-width="0.8"/></g><g transform="rotate(-5 904.5 402)"><rect x="887" y="390" width="35" height="24" rx="3.5" fill="#8b8e90" stroke="#3a3a3a" stroke-width="1.2"/><rect x="891.5" y="394" width="26" height="16" rx="2" fill="url(#brk)" stroke="#3a3a3a" stroke-width="1"/><rect x="889.2" y="392" width="30.6" height="20" rx="2.6" fill="none" stroke="#c9cbcc" stroke-width="0.8"/></g><g transform="rotate(-2 726 469.5)"><rect x="711" y="459" width="30" height="21" rx="3.5" fill="#8b8e90" stroke="#3a3a3a" stroke-width="1.2"/><rect x="715.5" y="463" width="21" height="13" rx="2" fill="url(#brk)" stroke="#3a3a3a" stroke-width="1"/><rect x="713.2" y="461" width="25.6" height="17" rx="2.6" fill="none" stroke="#c9cbcc" stroke-width="0.8"/></g><g transform="rotate(-3 772 466)"><rect x="757" y="456" width="30" height="20" rx="3.5" fill="#8b8e90" stroke="#3a3a3a" stroke-width="1.2"/><rect x="761.5" y="460" width="21" height="12" rx="2" fill="url(#brk)" stroke="#3a3a3a" stroke-width="1"/><rect x="759.2" y="458" width="25.6" height="16" rx="2.6" fill="none" stroke="#c9cbcc" stroke-width="0.8"/></g><g transform="rotate(-4 830 461)"><rect x="815" y="450" width="30" height="22" rx="3.5" fill="#8b8e90" stroke="#3a3a3a" stroke-width="1.2"/><rect x="819.5" y="454" width="21" height="14" rx="2" fill="url(#brk)" stroke="#3a3a3a" stroke-width="1"/><rect x="817.2" y="452" width="25.6" height="18" rx="2.6" fill="none" stroke="#c9cbcc" stroke-width="0.8"/></g><g transform="rotate(-5 894 450)"><rect x="877" y="438" width="34" height="24" rx="3.5" fill="#8b8e90" stroke="#3a3a3a" stroke-width="1.2"/><rect x="881.5" y="442" width="25" height="16" rx="2" fill="url(#brk)" stroke="#3a3a3a" stroke-width="1"/><rect x="879.2" y="440" width="29.6" height="20" rx="2.6" fill="none" stroke="#c9cbcc" stroke-width="0.8"/></g><path d="M893.5,396 L893.5,389 C893.5,386 895,385.5 898,385 L908,383.2 L908.4,386.5" fill="none" stroke="#3a3a3a" stroke-width="2.7" stroke-linecap="round" stroke-linejoin="round"/><path d="M893.5,396 L893.5,389 C893.5,386 895,385.5 898,385 L908,383.2 L908.4,386.5" fill="none" stroke="#a9acae" stroke-width="1.3" stroke-linecap="round" stroke-linejoin="round"/><path d="M887.5,457 L888,466 C888,468.5 889.5,469.5 892,469.3 L900.5,468.6 L900.3,465.5" fill="none" stroke="#3a3a3a" stroke-width="2.7" stroke-linecap="round" stroke-linejoin="round"/><path d="M887.5,457 L888,466 C888,468.5 889.5,469.5 892,469.3 L900.5,468.6 L900.3,465.5" fill="none" stroke="#a9acae" stroke-width="1.3" stroke-linecap="round" stroke-linejoin="round"/><path d="M743.8,411 L729.8,477 L734.8,477 L749.2,411 Z" fill="#f4fbe8" opacity="0.55"/><path d="M743.8,411 L729.8,477" stroke="#8bc53f" stroke-width="2.1" stroke-linecap="round"/><path d="M749.2,411 L734.8,477" stroke="#8bc53f" stroke-width="2.1" stroke-linecap="round"/><path d="M743.8,411 Q746.5,409 749.2,411" fill="none" stroke="#8bc53f" stroke-width="1.2"/><path d="M729.8,477 Q732.3,479 734.8,477" fill="none" stroke="#8bc53f" stroke-width="1.2"/><path d="M788.2,407.5 L775.5,474 L781,474 L794.7,407.5 Z" fill="#f4fbe8" opacity="0.55"/><path d="M788.2,407.5 L775.5,474" stroke="#8bc53f" stroke-width="2.1" stroke-linecap="round"/><path d="M794.7,407.5 L781,474" stroke="#8bc53f" stroke-width="2.1" stroke-linecap="round"/><path d="M788.2,407.5 Q791.5,405.5 794.7,407.5" fill="none" stroke="#8bc53f" stroke-width="1.2"/><path d="M775.5,474 Q778.2,476 781,474" fill="none" stroke="#8bc53f" stroke-width="1.2"/><path d="M842.8,400 L833.2,471 L840.5,470 L849,400 Z" fill="#f4fbe8" opacity="0.55"/><path d="M842.8,400 L833.2,471" stroke="#8bc53f" stroke-width="2.1" stroke-linecap="round"/><path d="M849,400 L840.5,470" stroke="#8bc53f" stroke-width="2.1" stroke-linecap="round"/><path d="M842.8,400 Q845.9,398 849,400" fill="none" stroke="#8bc53f" stroke-width="1.2"/><path d="M833.2,471 Q836.9,473 840.5,470" fill="none" stroke="#8bc53f" stroke-width="1.2"/><path d="M890.2,394 L882.8,462 L890,460.5 L898.5,394 Z" fill="#f4fbe8" opacity="0.55"/><path d="M890.2,394 L882.8,462" stroke="#8bc53f" stroke-width="2.1" stroke-linecap="round"/><path d="M898.5,394 L890,460.5" stroke="#8bc53f" stroke-width="2.1" stroke-linecap="round"/><path d="M890.2,394 Q894.4,392 898.5,394" fill="none" stroke="#8bc53f" stroke-width="1.2"/><path d="M882.8,462 Q886.4,464 890,460.5" fill="none" stroke="#8bc53f" stroke-width="1.2"/><path d="M981.4,385 V394 H976.9 L982.6,409 L988.4,394 H983.8 V385 Z" fill="#2a2627"/><path d="M981.4,452 V443 H976.9 L982.6,428 L988.4,443 H983.8 V452 Z" fill="#2a2627"/>
</g>
<g id="archL">
<path d="M207.5,579C208,577 209.3,574.8 212.5,573C215.7,571.2 222,568.7 226.5,568C231,567.3 237.2,566 239.5,569C241.8,572 240.8,581.3 240,586C239.2,590.7 236.4,594.8 234.5,597C232.6,599.2 231.2,599.5 228.5,599C225.8,598.5 221.7,596.3 218.5,594C215.3,591.7 211.3,587.5 209.5,585C207.7,582.5 207,581 207.5,579Z" fill="#fff" stroke="#3a3a3a" stroke-width="1.5" stroke-linejoin="round"/>
<path d="M241.5,570C243.8,568.3 250,567.3 254.5,568C259,568.7 265.5,571.8 268.5,574C271.5,576.2 272.8,578.2 272.5,581C272.2,583.8 269.2,588 266.5,591C263.8,594 259.2,597.7 256.5,599C253.8,600.3 252.7,600.7 250.5,599C248.3,597.3 245.1,592.5 243.5,589C241.9,585.5 241.3,581.2 241,578C240.7,574.8 239.2,571.7 241.5,570Z" fill="#fff" stroke="#3a3a3a" stroke-width="1.5" stroke-linejoin="round"/>
<path d="M178.5,594C178.2,591.2 181,588.8 184.5,586C188,583.2 196,578 199.5,577C203,576 204.2,576.8 205.5,580C206.8,583.2 207.5,591.5 207.5,596C207.5,600.5 207,604.9 205.5,607C204,609.1 201.7,609.2 198.5,608.5C195.3,607.8 189.8,605.4 186.5,603C183.2,600.6 178.8,596.8 178.5,594Z" fill="#fff" stroke="#3a3a3a" stroke-width="1.5" stroke-linejoin="round"/>
<path d="M273.5,582C274.5,579.5 276,577 278.5,577C281,577 285,579.3 288.5,582C292,584.7 297.5,590.5 299.5,593C301.5,595.5 302,594.8 300.5,597C299,599.2 293.8,604.2 290.5,606C287.2,607.8 283.2,608.3 280.5,608C277.8,607.7 275.8,606.7 274.5,604C273.2,601.3 272.7,595.7 272.5,592C272.3,588.3 272.5,584.5 273.5,582Z" fill="#fff" stroke="#3a3a3a" stroke-width="1.5" stroke-linejoin="round"/>
<path d="M138,645.5C136.2,643.1 136.5,640.2 137,638C137.5,635.8 139.7,631.4 141.5,629.5C143.3,627.6 147.4,625.5 150,624.5C152.6,623.5 156.5,624.2 160,622.5C163.5,620.8 171.4,614.3 175,612C178.6,609.7 183.9,607.7 186,606C188.1,604.3 188.3,601.8 190,600C191.7,598.2 195.5,594.8 198,593C200.5,591.2 204.1,588.5 208,587C211.9,585.5 221.4,582.8 226,582C230.6,581.2 236.8,581.1 241,581C245.2,580.9 251.7,580.8 256,581.5C260.3,582.2 267.2,583.8 272,586C276.8,588.2 286.6,594.3 290,597C293.4,599.7 293.8,602.9 296,605C298.2,607.1 302.9,609.6 306,612C309.1,614.4 315.2,620.5 318,622C320.8,623.5 323.7,622.2 326,623C328.3,623.8 332.4,626.2 334.5,628C336.6,629.8 339.8,633.5 341,636C342.2,638.5 344.5,642.8 343,645.5C341.5,648.2 333.1,652.5 330,655C326.9,657.5 323,662.1 321,663.5C319,664.9 318.1,665.1 316,665C313.9,664.9 308.4,664.7 306,663C303.6,661.3 300.4,656.2 299,653C297.6,649.8 297.8,643.9 296,640C294.2,636.1 289.6,628.9 286,625C282.4,621.1 275,614.7 270,612C265,609.3 255.6,606.4 250,605.5C244.4,604.6 235.6,604.7 230,605.5C224.4,606.3 215,608.1 210,611C205,613.9 197.1,621.9 194,626C190.9,630.1 189.4,636.4 188,640C186.6,643.6 185.7,649.1 184,652C182.3,654.9 178.5,659.1 176,661C173.5,662.9 168.4,665.1 166,665.5C163.6,665.9 161.2,665.5 159,664C156.8,662.5 152.9,657.6 150,655C147.1,652.4 139.8,647.9 138,645.5Z" fill="url(#plg)" stroke="#333" stroke-width="1.2"/>
<g clip-path="url(#cpl)">
<path d="M178,624C180.3,620.5 187,608.5 192,603C197,597.5 202.3,593.9 208,591C213.7,588.1 220.5,586.6 226,585.5C231.5,584.4 236,584.6 241,584.5C246,584.4 250.8,584.1 256,585C261.2,585.9 266.7,587.3 272,590C277.3,592.7 283,595.7 288,601C293,606.3 299.7,618.5 302,622" fill="none" stroke="#85888b" stroke-width="17" opacity="0.9"/>
<ellipse cx="196" cy="603" rx="5" ry="12" transform="rotate(38 196 603)" fill="#fff" filter="url(#b2)" opacity="0.95"/>
<ellipse cx="290" cy="604" rx="4.5" ry="11" transform="rotate(-42 290 604)" fill="#fff" filter="url(#b2)" opacity="0.9"/>
<ellipse cx="241" cy="588" rx="26" ry="3.5" fill="#b5b8ba" filter="url(#b2)" opacity="0.8"/>
</g>
<path d="M138,645.5C136.2,643.1 136.5,640.2 137,638C137.5,635.8 139.7,631.4 141.5,629.5C143.3,627.6 147.4,625.5 150,624.5C152.6,623.5 156.5,624.2 160,622.5C163.5,620.8 171.4,614.3 175,612C178.6,609.7 183.9,607.7 186,606C188.1,604.3 188.3,601.8 190,600C191.7,598.2 195.5,594.8 198,593C200.5,591.2 204.1,588.5 208,587C211.9,585.5 221.4,582.8 226,582C230.6,581.2 236.8,581.1 241,581C245.2,580.9 251.7,580.8 256,581.5C260.3,582.2 267.2,583.8 272,586C276.8,588.2 286.6,594.3 290,597C293.4,599.7 293.8,602.9 296,605C298.2,607.1 302.9,609.6 306,612C309.1,614.4 315.2,620.5 318,622C320.8,623.5 323.7,622.2 326,623C328.3,623.8 332.4,626.2 334.5,628C336.6,629.8 339.8,633.5 341,636C342.2,638.5 344.5,642.8 343,645.5C341.5,648.2 333.1,652.5 330,655C326.9,657.5 323,662.1 321,663.5C319,664.9 318.1,665.1 316,665C313.9,664.9 308.4,664.7 306,663C303.6,661.3 300.4,656.2 299,653C297.6,649.8 297.8,643.9 296,640C294.2,636.1 289.6,628.9 286,625C282.4,621.1 275,614.7 270,612C265,609.3 255.6,606.4 250,605.5C244.4,604.6 235.6,604.7 230,605.5C224.4,606.3 215,608.1 210,611C205,613.9 197.1,621.9 194,626C190.9,630.1 189.4,636.4 188,640C186.6,643.6 185.7,649.1 184,652C182.3,654.9 178.5,659.1 176,661C173.5,662.9 168.4,665.1 166,665.5C163.6,665.9 161.2,665.5 159,664C156.8,662.5 152.9,657.6 150,655C147.1,652.4 139.8,647.9 138,645.5Z" fill="none" stroke="#333" stroke-width="1.2"/>
<path d="M157,618C157.2,615.8 157.8,611 160,608C162.2,605 166.7,601.2 170,600C173.3,598.8 177.6,599.2 180,601C182.4,602.8 184.7,607.6 184.5,611C184.3,614.4 181.8,619.2 179,621.5C176.2,623.8 171.3,624.5 168,624.5C164.7,624.5 160.8,622.6 159,621.5C157.2,620.4 156.8,620.2 157,618Z" fill="#fff" stroke="#3a3a3a" stroke-width="1.5" stroke-linejoin="round"/>
<path d="M296,606C296.7,603.3 299.3,601 302,600C304.7,599 309,598.7 312,600C315,601.3 318.1,605 320,608C321.9,611 324.2,615.2 323.5,618C322.8,620.8 318.9,623.6 316,624.5C313.1,625.4 309,624.9 306,623.5C303,622.1 299.7,618.9 298,616C296.3,613.1 295.3,608.7 296,606Z" fill="#fff" stroke="#3a3a3a" stroke-width="1.5" stroke-linejoin="round"/>
<path d="M140,640C139.5,635.7 142,632.2 145,630C148,627.8 153.5,626.3 158,627C162.5,627.7 168.7,630.8 172,634C175.3,637.2 177.7,642 178,646C178.3,650 177,655.3 174,658C171,660.7 164.3,662.3 160,662C155.7,661.7 151.3,659.7 148,656C144.7,652.3 140.5,644.3 140,640Z" fill="#fff" stroke="#3a3a3a" stroke-width="1.5" stroke-linejoin="round"/>
<path d="M128,672C127.5,667.8 130.3,662.7 133,660C135.7,657.3 139.8,655.7 144,656C148.2,656.3 154.3,659.2 158,662C161.7,664.8 165,669.5 166,673C167,676.5 166.3,680.2 164,683C161.7,685.8 156.7,689.7 152,690C147.3,690.3 140,688 136,685C132,682 128.5,676.2 128,672Z" fill="#fff" stroke="#3a3a3a" stroke-width="1.5" stroke-linejoin="round"/>
<path d="M118,700C118.9,696.7 119,691.5 122,689C125,686.5 130.7,684.7 136,685C141.3,685.3 150,688 154,691C158,694 159.7,698.3 160,703C160.3,707.7 158.3,714.5 156,719C153.7,723.5 149.8,728.3 146,730C142.2,731.7 137.3,730.8 133,729C128.7,727.2 122.8,722.3 120,719C117.2,715.7 116.8,712.2 116.5,709C116.2,705.8 117.1,703.3 118,700Z" fill="#fff" stroke="#3a3a3a" stroke-width="1.5" stroke-linejoin="round"/>
<path d="M109,740C109.5,735.8 109.2,731.7 111,729C112.8,726.3 116,723.8 120,724C124,724.2 130.7,728.2 135,730C139.3,731.8 143.3,732.3 146,735C148.7,737.7 151,742 151,746C151,750 149.2,755.7 146,759C142.8,762.3 136.8,765.2 132,766C127.2,766.8 121,766 117,764C113,762 109.3,758 108,754C106.7,750 108.5,744.2 109,740Z" fill="#fff" stroke="#3a3a3a" stroke-width="1.5" stroke-linejoin="round"/>
<path d="M303,642C302.8,638 304.2,634.5 307,632C309.8,629.5 315.5,627 320,627C324.5,627 330.7,629.2 334,632C337.3,634.8 340,640.3 340,644C340,647.7 337.3,651.2 334,654C330.7,656.8 324.3,660.7 320,661C315.7,661.3 310.8,659.2 308,656C305.2,652.8 303.2,646 303,642Z" fill="#fff" stroke="#3a3a3a" stroke-width="1.5" stroke-linejoin="round"/>
<path d="M314,674C314,670.3 315.7,665 319,662C322.3,659 329.2,656 334,656C338.8,656 344.8,659 348,662C351.2,665 353.3,670.3 353,674C352.7,677.7 349.5,681.5 346,684C342.5,686.5 336.5,689 332,689C327.5,689 322,686.5 319,684C316,681.5 314,677.7 314,674Z" fill="#fff" stroke="#3a3a3a" stroke-width="1.5" stroke-linejoin="round"/>
<path d="M320,705C320.5,701.3 320.2,695.2 324,692C327.8,688.8 337.5,686.5 343,686C348.5,685.5 353.7,686.3 357,689C360.3,691.7 361.8,697.8 363,702C364.2,706.2 365,710.3 364,714C363,717.7 360.5,721.2 357,724C353.5,726.8 347.8,730.7 343,731C338.2,731.3 331.7,728.8 328,726C324.3,723.2 322.3,717.5 321,714C319.7,710.5 319.5,708.7 320,705Z" fill="#fff" stroke="#3a3a3a" stroke-width="1.5" stroke-linejoin="round"/>
<path d="M330,746C330.3,742.5 330.7,737.7 333,735C335.3,732.3 340,731.8 344,730C348,728.2 353.2,724.7 357,724C360.8,723.3 365,724.2 367,726C369,727.8 368.8,732.2 369,735C369.2,737.8 367.5,740 368,743C368.5,746 372.5,749.8 372,753C371.5,756.2 368.5,759.7 365,762C361.5,764.3 355.5,766.7 351,767C346.5,767.3 341.3,765.8 338,764C334.7,762.2 332.3,759 331,756C329.7,753 329.7,749.5 330,746Z" fill="#fff" stroke="#3a3a3a" stroke-width="1.5" stroke-linejoin="round"/>
<g fill="none" stroke="#3a3a3a" stroke-width="1.35" stroke-linecap="round">
<path d="M161,638C160.6,639.5 160.3,644.8 158.5,647C156.7,649.2 151.4,650.3 150,651"/>
<path d="M158.5,647 L160,656"/>
<path d="M147.6,664.8C147.3,666.4 147.6,672.1 146,674.4C144.4,676.7 139.3,677.7 138,678.4"/>
<path d="M146,674.4 L147.6,680.8"/>
<path d="M146,671 L154,668"/>
<path d="M141,696C140.5,696.9 138.6,698.5 138,701.6C137.4,704.7 137.8,712.3 137.7,714.4"/>
<path d="M132.4,702.4 L138,701.6"/>
<path d="M130,715C132.1,714.9 139.1,714.2 142.8,714.4C146.5,714.6 150.8,716 152.4,716.3"/>
<path d="M127.6,734.4C128,735.3 130.4,738.6 130,740C129.6,741.4 125,741.4 125,743C125,744.6 129.6,747.4 130,749.6C130.4,751.8 129.3,755 127.6,756C125.9,757 120.9,755.8 119.6,755.7"/>
<path d="M129,754.4C130.2,753.8 133.6,751.7 136.4,751C139.2,750.3 144.4,750.5 146,750.4"/>
<path d="M130.8,756 L135.6,760.8"/>
<path d="M316,639C317,640 320,642.7 322,645C324,647.3 327,651.7 328,653"/>
<path d="M321,638.5C321.1,639.6 320.8,642.9 321.5,645C322.2,647.1 324.4,650 325,651"/>
<path d="M322,668C323.6,668.5 328.1,669.3 331.6,671C335.1,672.7 340.9,677.2 342.8,678.4"/>
<path d="M333,663C333.2,664.3 334.2,667.9 334,671C333.8,674.1 332,679.8 331.6,681.6"/>
<path d="M338.8,693.6C339.2,694.7 340.1,698.4 341,700C341.9,701.6 342.8,702.7 344.4,703C346,703.3 349.7,701.8 350.8,701.6"/>
<path d="M344.4,703C344.1,704.3 342.5,708.8 342.8,711C343.1,713.2 345.5,715.2 346,716"/>
<path d="M328.4,716 L342.8,712.8"/>
<path d="M350.8,734.4C350.7,735.3 349.5,738.4 350,740C350.5,741.6 353.3,743.3 354,744"/>
<path d="M338,748.8C339.1,749.3 342.3,750.7 344.4,752C346.5,753.3 348.1,756.4 350.8,756.8C353.5,757.2 358.8,754.8 360.4,754.4"/>
</g></g>
<g id="archR">
<path d="M699.5,638.5C699,634.2 701.5,630.7 704.5,628.5C707.5,626.3 713,624.8 717.5,625.5C722,626.2 728.2,629.3 731.5,632.5C734.8,635.7 737.2,640.5 737.5,644.5C737.8,648.5 736.5,653.8 733.5,656.5C730.5,659.2 723.8,660.8 719.5,660.5C715.2,660.2 710.8,658.2 707.5,654.5C704.2,650.8 700,642.8 699.5,638.5Z" fill="#fff" stroke="#3a3a3a" stroke-width="1.5" stroke-linejoin="round"/>
<path d="M687.5,670.5C687,666.3 689.8,661.2 692.5,658.5C695.2,655.8 699.3,654.2 703.5,654.5C707.7,654.8 713.8,657.7 717.5,660.5C721.2,663.3 724.5,668 725.5,671.5C726.5,675 725.8,678.7 723.5,681.5C721.2,684.3 716.2,688.2 711.5,688.5C706.8,688.8 699.5,686.5 695.5,683.5C691.5,680.5 688,674.7 687.5,670.5Z" fill="#fff" stroke="#3a3a3a" stroke-width="1.5" stroke-linejoin="round"/>
<path d="M677.5,698.5C678.4,695.2 678.5,690 681.5,687.5C684.5,685 690.2,683.2 695.5,683.5C700.8,683.8 709.5,686.5 713.5,689.5C717.5,692.5 719.2,696.8 719.5,701.5C719.8,706.2 717.8,713 715.5,717.5C713.2,722 709.3,726.8 705.5,728.5C701.7,730.2 696.8,729.3 692.5,727.5C688.2,725.7 682.2,720.8 679.5,717.5C676.8,714.2 676.3,710.7 676,707.5C675.7,704.3 676.6,701.8 677.5,698.5Z" fill="#fff" stroke="#3a3a3a" stroke-width="1.5" stroke-linejoin="round"/>
<path d="M668.5,738.5C669,734.3 668.7,730.2 670.5,727.5C672.3,724.8 675.5,722.3 679.5,722.5C683.5,722.7 690.2,726.7 694.5,728.5C698.8,730.3 702.8,730.8 705.5,733.5C708.2,736.2 710.5,740.5 710.5,744.5C710.5,748.5 708.7,754.2 705.5,757.5C702.3,760.8 696.3,763.7 691.5,764.5C686.7,765.3 680.5,764.5 676.5,762.5C672.5,760.5 668.8,756.5 667.5,752.5C666.2,748.5 668,742.7 668.5,738.5Z" fill="#fff" stroke="#3a3a3a" stroke-width="1.5" stroke-linejoin="round"/>
<path d="M862.5,640.5C862.3,636.5 863.7,633 866.5,630.5C869.3,628 875,625.5 879.5,625.5C884,625.5 890.2,627.7 893.5,630.5C896.8,633.3 899.5,638.8 899.5,642.5C899.5,646.2 896.8,649.7 893.5,652.5C890.2,655.3 883.8,659.2 879.5,659.5C875.2,659.8 870.3,657.7 867.5,654.5C864.7,651.3 862.7,644.5 862.5,640.5Z" fill="#fff" stroke="#3a3a3a" stroke-width="1.5" stroke-linejoin="round"/>
<path d="M873.5,672.5C873.5,668.8 875.2,663.5 878.5,660.5C881.8,657.5 888.7,654.5 893.5,654.5C898.3,654.5 904.3,657.5 907.5,660.5C910.7,663.5 912.8,668.8 912.5,672.5C912.2,676.2 909,680 905.5,682.5C902,685 896,687.5 891.5,687.5C887,687.5 881.5,685 878.5,682.5C875.5,680 873.5,676.2 873.5,672.5Z" fill="#fff" stroke="#3a3a3a" stroke-width="1.5" stroke-linejoin="round"/>
<path d="M879.5,703.5C880,699.8 879.7,693.7 883.5,690.5C887.3,687.3 897,685 902.5,684.5C908,684 913.2,684.8 916.5,687.5C919.8,690.2 921.3,696.3 922.5,700.5C923.7,704.7 924.5,708.8 923.5,712.5C922.5,716.2 920,719.7 916.5,722.5C913,725.3 907.3,729.2 902.5,729.5C897.7,729.8 891.2,727.3 887.5,724.5C883.8,721.7 881.8,716 880.5,712.5C879.2,709 879,707.2 879.5,703.5Z" fill="#fff" stroke="#3a3a3a" stroke-width="1.5" stroke-linejoin="round"/>
<path d="M889.5,744.5C889.8,741 890.2,736.2 892.5,733.5C894.8,730.8 899.5,730.3 903.5,728.5C907.5,726.7 912.7,723.2 916.5,722.5C920.3,721.8 924.5,722.7 926.5,724.5C928.5,726.3 928.3,730.7 928.5,733.5C928.7,736.3 927,738.5 927.5,741.5C928,744.5 932,748.3 931.5,751.5C931,754.7 928,758.2 924.5,760.5C921,762.8 915,765.2 910.5,765.5C906,765.8 900.8,764.3 897.5,762.5C894.2,760.7 891.8,757.5 890.5,754.5C889.2,751.5 889.2,748 889.5,744.5Z" fill="#fff" stroke="#3a3a3a" stroke-width="1.5" stroke-linejoin="round"/>
<g fill="none" stroke="#3a3a3a" stroke-width="1.35" stroke-linecap="round" transform="translate(559.5,-1.5)">
<path d="M161,638C160.6,639.5 160.3,644.8 158.5,647C156.7,649.2 151.4,650.3 150,651"/>
<path d="M158.5,647 L160,656"/>
<path d="M147.6,664.8C147.3,666.4 147.6,672.1 146,674.4C144.4,676.7 139.3,677.7 138,678.4"/>
<path d="M146,674.4 L147.6,680.8"/>
<path d="M146,671 L154,668"/>
<path d="M141,696C140.5,696.9 138.6,698.5 138,701.6C137.4,704.7 137.8,712.3 137.7,714.4"/>
<path d="M132.4,702.4 L138,701.6"/>
<path d="M130,715C132.1,714.9 139.1,714.2 142.8,714.4C146.5,714.6 150.8,716 152.4,716.3"/>
<path d="M127.6,734.4C128,735.3 130.4,738.6 130,740C129.6,741.4 125,741.4 125,743C125,744.6 129.6,747.4 130,749.6C130.4,751.8 129.3,755 127.6,756C125.9,757 120.9,755.8 119.6,755.7"/>
<path d="M129,754.4C130.2,753.8 133.6,751.7 136.4,751C139.2,750.3 144.4,750.5 146,750.4"/>
<path d="M130.8,756 L135.6,760.8"/>
<path d="M316,639C317,640 320,642.7 322,645C324,647.3 327,651.7 328,653"/>
<path d="M321,638.5C321.1,639.6 320.8,642.9 321.5,645C322.2,647.1 324.4,650 325,651"/>
<path d="M322,668C323.6,668.5 328.1,669.3 331.6,671C335.1,672.7 340.9,677.2 342.8,678.4"/>
<path d="M333,663C333.2,664.3 334.2,667.9 334,671C333.8,674.1 332,679.8 331.6,681.6"/>
<path d="M338.8,693.6C339.2,694.7 340.1,698.4 341,700C341.9,701.6 342.8,702.7 344.4,703C346,703.3 349.7,701.8 350.8,701.6"/>
<path d="M344.4,703C344.1,704.3 342.5,708.8 342.8,711C343.1,713.2 345.5,715.2 346,716"/>
<path d="M328.4,716 L342.8,712.8"/>
<path d="M350.8,734.4C350.7,735.3 349.5,738.4 350,740C350.5,741.6 353.3,743.3 354,744"/>
<path d="M338,748.8C339.1,749.3 342.3,750.7 344.4,752C346.5,753.3 348.1,756.4 350.8,756.8C353.5,757.2 358.8,754.8 360.4,754.4"/>
</g>
<path d="M715,619C715.3,616.2 716.5,610.5 719,607C721.5,603.5 726.8,599.3 730,598C733.2,596.7 735.3,596.8 738,599C740.7,601.2 744.5,607 746,611C747.5,615 748.3,619.8 747,623C745.7,626.2 741.5,629.2 738,630C734.5,630.8 729.5,629 726,628C722.5,627 718.8,625.5 717,624C715.2,622.5 714.7,621.8 715,619Z" fill="#ffd30d" stroke="#3b3011" stroke-width="2.0" stroke-linejoin="round"/>
<path d="M851,613C852,610.3 853.7,605.7 856,603C858.3,600.3 862,597.2 865,597C868,596.8 871.2,599.2 874,602C876.8,604.8 880.5,610.7 882,614C883.5,617.3 884,619.7 883,622C882,624.3 879.2,626.7 876,628C872.8,629.3 867.7,630.5 864,630C860.3,629.5 856.3,626.8 854,625C851.7,623.2 850.5,621 850,619C849.5,617 850,615.7 851,613Z" fill="#ffd30d" stroke="#3b3011" stroke-width="2.0" stroke-linejoin="round"/>
<path d="M738,593C737.7,590.2 740.5,587.8 744,585C747.5,582.2 755.5,577 759,576C762.5,575 763.7,575.8 765,579C766.3,582.2 767,590.5 767,595C767,599.5 766.5,603.9 765,606C763.5,608.1 761.2,608.2 758,607.5C754.8,606.8 749.3,604.4 746,602C742.7,599.6 738.3,595.8 738,593Z" fill="#ffd30d" stroke="#3b3011" stroke-width="2.0" stroke-linejoin="round"/>
<path d="M833,581C834,578.5 835.5,576 838,576C840.5,576 844.5,578.3 848,581C851.5,583.7 857,589.5 859,592C861,594.5 861.5,593.8 860,596C858.5,598.2 853.3,603.2 850,605C846.7,606.8 842.7,607.3 840,607C837.3,606.7 835.3,605.7 834,603C832.7,600.3 832.2,594.7 832,591C831.8,587.3 832,583.5 833,581Z" fill="#ffd30d" stroke="#3b3011" stroke-width="2.0" stroke-linejoin="round"/>
<path d="M767,578C767.5,576 768.8,573.8 772,572C775.2,570.2 781.5,567.7 786,567C790.5,566.3 796.8,565 799,568C801.2,571 800.3,580.3 799.5,585C798.7,589.7 795.9,593.8 794,596C792.1,598.2 790.7,598.5 788,598C785.3,597.5 781.2,595.3 778,593C774.8,590.7 770.8,586.5 769,584C767.2,581.5 766.5,580 767,578Z" fill="#ffd30d" stroke="#3b3011" stroke-width="2.0" stroke-linejoin="round"/>
<path d="M801,569C803.2,567.3 809.5,566.3 814,567C818.5,567.7 825,570.8 828,573C831,575.2 832.3,577.2 832,580C831.7,582.8 828.7,587 826,590C823.3,593 818.7,596.7 816,598C813.3,599.3 812.2,599.7 810,598C807.8,596.3 804.6,591.5 803,588C801.4,584.5 800.8,580.2 800.5,577C800.2,573.8 798.8,570.7 801,569Z" fill="#ffd30d" stroke="#3b3011" stroke-width="2.0" stroke-linejoin="round"/>
</g>
<rect x="0" y="774.4" width="1000" height="20" fill="#000"/>
</svg>
</body></html>
